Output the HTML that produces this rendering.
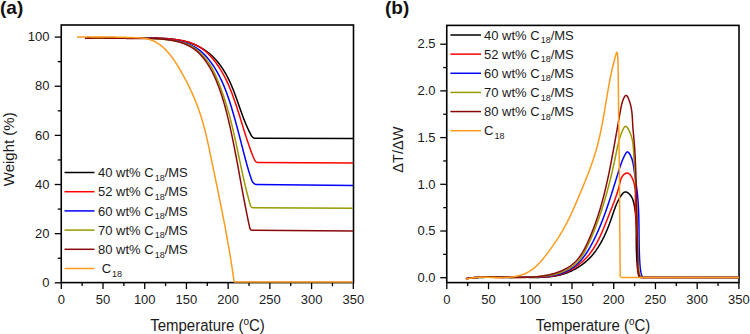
<!DOCTYPE html>
<html><head><meta charset="utf-8"><style>
html,body{margin:0;padding:0;background:#fff;width:750px;height:334px;overflow:hidden}
svg{display:block}
text{font-family:"Liberation Sans",sans-serif;font-size:13px;fill:#1a1a1a}
</style></head><body>
<svg width="750" height="334" viewBox="0 0 750 334">
<rect width="750" height="334" fill="#fff"/>
<text x="0" y="14.2" style="font-size:19px;font-weight:bold;fill:#111">(a)</text>
<text x="385" y="14.2" style="font-size:19px;font-weight:bold;fill:#111">(b)</text>
<g stroke="#000" stroke-width="1.6" fill="none">
<rect x="61.25" y="25.0" width="292.25" height="257.60"/>
<rect x="446.75" y="25.4" width="292.25" height="257.20"/>
</g>
<g stroke="#000" stroke-width="1.3">
<line x1="61.30" y1="282.60" x2="61.30" y2="289.10"/><line x1="82.16" y1="282.60" x2="82.16" y2="286.10"/><line x1="103.02" y1="282.60" x2="103.02" y2="289.10"/><line x1="123.87" y1="282.60" x2="123.87" y2="286.10"/><line x1="144.73" y1="282.60" x2="144.73" y2="289.10"/><line x1="165.59" y1="282.60" x2="165.59" y2="286.10"/><line x1="186.44" y1="282.60" x2="186.44" y2="289.10"/><line x1="207.30" y1="282.60" x2="207.30" y2="286.10"/><line x1="228.16" y1="282.60" x2="228.16" y2="289.10"/><line x1="249.02" y1="282.60" x2="249.02" y2="286.10"/><line x1="269.88" y1="282.60" x2="269.88" y2="289.10"/><line x1="290.73" y1="282.60" x2="290.73" y2="286.10"/><line x1="311.59" y1="282.60" x2="311.59" y2="289.10"/><line x1="332.45" y1="282.60" x2="332.45" y2="286.10"/><line x1="353.31" y1="282.60" x2="353.31" y2="289.10"/><line x1="61.25" y1="282.80" x2="54.75" y2="282.80"/><line x1="61.25" y1="258.23" x2="57.75" y2="258.23"/><line x1="61.25" y1="233.66" x2="54.75" y2="233.66"/><line x1="61.25" y1="209.09" x2="57.75" y2="209.09"/><line x1="61.25" y1="184.52" x2="54.75" y2="184.52"/><line x1="61.25" y1="159.95" x2="57.75" y2="159.95"/><line x1="61.25" y1="135.38" x2="54.75" y2="135.38"/><line x1="61.25" y1="110.81" x2="57.75" y2="110.81"/><line x1="61.25" y1="86.24" x2="54.75" y2="86.24"/><line x1="61.25" y1="61.67" x2="57.75" y2="61.67"/><line x1="61.25" y1="37.10" x2="54.75" y2="37.10"/>
<line x1="446.80" y1="282.60" x2="446.80" y2="289.10"/><line x1="467.67" y1="282.60" x2="467.67" y2="286.10"/><line x1="488.53" y1="282.60" x2="488.53" y2="289.10"/><line x1="509.39" y1="282.60" x2="509.39" y2="286.10"/><line x1="530.26" y1="282.60" x2="530.26" y2="289.10"/><line x1="551.12" y1="282.60" x2="551.12" y2="286.10"/><line x1="571.99" y1="282.60" x2="571.99" y2="289.10"/><line x1="592.86" y1="282.60" x2="592.86" y2="286.10"/><line x1="613.72" y1="282.60" x2="613.72" y2="289.10"/><line x1="634.59" y1="282.60" x2="634.59" y2="286.10"/><line x1="655.45" y1="282.60" x2="655.45" y2="289.10"/><line x1="676.32" y1="282.60" x2="676.32" y2="286.10"/><line x1="697.18" y1="282.60" x2="697.18" y2="289.10"/><line x1="718.05" y1="282.60" x2="718.05" y2="286.10"/><line x1="738.91" y1="282.60" x2="738.91" y2="289.10"/><line x1="446.75" y1="277.70" x2="440.25" y2="277.70"/><line x1="446.75" y1="254.35" x2="443.25" y2="254.35"/><line x1="446.75" y1="231.00" x2="440.25" y2="231.00"/><line x1="446.75" y1="207.65" x2="443.25" y2="207.65"/><line x1="446.75" y1="184.30" x2="440.25" y2="184.30"/><line x1="446.75" y1="160.95" x2="443.25" y2="160.95"/><line x1="446.75" y1="137.60" x2="440.25" y2="137.60"/><line x1="446.75" y1="114.25" x2="443.25" y2="114.25"/><line x1="446.75" y1="90.90" x2="440.25" y2="90.90"/><line x1="446.75" y1="67.55" x2="443.25" y2="67.55"/><line x1="446.75" y1="44.20" x2="440.25" y2="44.20"/>
</g>
<g fill="none" stroke-width="1.5" stroke-linejoin="round" stroke-linecap="butt">
<path d="M84.98,37.99 L85.73,38.01 L86.47,38.02 L87.21,38.04 L87.95,38.05 L88.69,38.06 L89.43,38.07 L90.17,38.08 L90.91,38.09 L91.65,38.10 L92.39,38.11 L93.12,38.12 L93.86,38.12 L94.59,38.13 L95.33,38.13 L96.06,38.14 L96.80,38.14 L97.53,38.15 L98.27,38.15 L99.00,38.15 L99.73,38.15 L100.46,38.15 L101.19,38.15 L101.92,38.15 L102.65,38.15 L103.38,38.15 L104.11,38.15 L104.84,38.14 L105.57,38.14 L106.30,38.14 L107.03,38.13 L107.76,38.13 L108.49,38.13 L109.22,38.12 L109.94,38.12 L110.67,38.11 L111.40,38.10 L112.13,38.10 L112.85,38.09 L113.58,38.09 L114.31,38.08 L115.04,38.07 L115.76,38.07 L116.49,38.06 L117.22,38.05 L117.94,38.04 L118.67,38.04 L119.40,38.03 L120.13,38.02 L120.85,38.01 L121.58,38.01 L122.31,38.00 L123.03,37.99 L123.76,37.99 L124.49,37.98 L125.22,37.97 L125.95,37.96 L126.67,37.96 L127.40,37.95 L128.13,37.94 L128.86,37.94 L129.59,37.93 L130.32,37.93 L131.05,37.92 L131.78,37.92 L132.51,37.91 L133.24,37.91 L133.97,37.90 L134.70,37.90 L135.43,37.89 L136.17,37.89 L136.90,37.89 L137.63,37.89 L138.37,37.88 L139.10,37.88 L139.84,37.88 L140.57,37.88 L141.31,37.88 L142.04,37.88 L142.78,37.88 L143.52,37.89 L144.26,37.89 L145.00,37.89 L145.73,37.90 L146.47,37.90 L147.22,37.91 L147.96,37.91 L148.70,37.92 L149.44,37.93 L150.19,37.94 L150.93,37.95 L151.68,37.96 L152.42,37.97 L153.17,37.98 L153.92,37.99 L154.66,38.01 L155.41,38.03 L156.16,38.04 L156.91,38.06 L157.65,38.09 L158.40,38.11 L159.15,38.14 L159.90,38.17 L160.65,38.20 L161.39,38.23 L162.14,38.27 L162.89,38.31 L163.64,38.35 L164.38,38.39 L165.13,38.44 L165.87,38.49 L166.62,38.55 L167.36,38.60 L168.11,38.67 L168.85,38.73 L169.59,38.80 L170.33,38.87 L171.07,38.95 L171.81,39.03 L172.54,39.12 L173.28,39.21 L174.01,39.30 L174.75,39.40 L175.48,39.51 L176.21,39.62 L176.94,39.73 L177.66,39.85 L178.39,39.97 L179.11,40.10 L179.83,40.24 L180.55,40.38 L181.27,40.53 L181.99,40.68 L182.70,40.84 L183.41,41.00 L184.12,41.17 L184.83,41.35 L185.53,41.53 L186.23,41.72 L186.93,41.92 L187.63,42.13 L188.32,42.34 L189.01,42.55 L189.70,42.78 L190.39,43.01 L191.07,43.25 L191.75,43.50 L192.43,43.75 L193.10,44.02 L193.77,44.28 L194.43,44.56 L195.10,44.85 L195.76,45.14 L196.41,45.43 L197.07,45.74 L197.71,46.05 L198.36,46.37 L199.00,46.70 L199.64,47.04 L200.27,47.38 L200.90,47.73 L201.52,48.09 L202.14,48.45 L202.75,48.82 L203.36,49.20 L203.97,49.58 L204.57,49.98 L205.16,50.38 L205.75,50.78 L206.34,51.20 L206.92,51.62 L207.49,52.05 L208.06,52.48 L208.63,52.93 L209.19,53.38 L209.74,53.83 L210.29,54.30 L210.83,54.77 L211.36,55.25 L211.89,55.73 L212.42,56.22 L212.94,56.72 L213.45,57.23 L213.95,57.74 L214.45,58.26 L214.95,58.78 L215.44,59.31 L215.92,59.85 L216.40,60.39 L216.88,60.94 L217.34,61.49 L217.81,62.05 L218.26,62.62 L218.71,63.19 L219.16,63.76 L219.60,64.34 L220.04,64.93 L220.47,65.51 L220.89,66.11 L221.31,66.71 L221.73,67.31 L222.14,67.92 L222.54,68.53 L222.94,69.15 L223.34,69.77 L223.73,70.39 L224.12,71.02 L224.50,71.65 L224.87,72.28 L225.25,72.92 L225.61,73.56 L225.97,74.20 L226.33,74.85 L226.69,75.50 L227.03,76.15 L227.38,76.81 L227.72,77.47 L228.05,78.12 L228.39,78.79 L228.71,79.45 L229.04,80.12 L229.35,80.78 L229.67,81.45 L229.98,82.13 L230.29,82.80 L230.59,83.47 L230.89,84.15 L231.18,84.83 L231.48,85.51 L231.77,86.19 L232.05,86.87 L232.33,87.55 L232.61,88.24 L232.89,88.92 L233.17,89.61 L233.44,90.30 L233.71,90.99 L233.97,91.68 L234.24,92.37 L234.50,93.06 L234.76,93.75 L235.02,94.45 L235.28,95.14 L235.53,95.83 L235.78,96.53 L236.04,97.22 L236.29,97.92 L236.53,98.61 L236.78,99.31 L237.03,100.01 L237.27,100.70 L237.52,101.40 L237.76,102.10 L238.01,102.79 L238.25,103.49 L238.49,104.19 L238.74,104.88 L238.98,105.58 L239.22,106.28 L239.46,106.97 L239.70,107.67 L239.95,108.36 L240.19,109.06 L240.43,109.75 L240.68,110.44 L240.92,111.14 L241.17,111.83 L241.42,112.52 L241.66,113.21 L241.91,113.90 L242.16,114.59 L242.41,115.27 L242.67,115.96 L242.92,116.64 L243.18,117.33 L243.44,118.01 L243.70,118.69 L243.96,119.37 L244.22,120.05 L244.49,120.72 L244.76,121.40 L245.03,122.07 L245.31,122.74 L245.58,123.41 L245.86,124.08 L246.14,124.75 L246.43,125.41 L246.72,126.07 L247.01,126.73 L247.31,127.39 L247.61,128.05 L247.91,128.70 L248.22,129.35 L248.53,130.00 L248.84,130.65 L249.16,131.29 L249.48,131.93 L249.81,132.57 L250.14,133.21 L250.48,133.84 Q252.4,138.2 255.0,138.2 L353,138.4" stroke="#000000"/>
<path d="M84.98,38.16 L85.79,38.15 L86.61,38.14 L87.42,38.13 L88.23,38.12 L89.05,38.11 L89.86,38.10 L90.67,38.09 L91.48,38.08 L92.30,38.07 L93.11,38.07 L93.92,38.06 L94.73,38.05 L95.54,38.04 L96.35,38.03 L97.16,38.03 L97.97,38.02 L98.78,38.01 L99.59,38.00 L100.40,38.00 L101.21,37.99 L102.02,37.99 L102.83,37.98 L103.64,37.98 L104.45,37.97 L105.26,37.97 L106.07,37.96 L106.87,37.96 L107.68,37.95 L108.49,37.95 L109.30,37.94 L110.11,37.94 L110.91,37.94 L111.72,37.94 L112.53,37.93 L113.34,37.93 L114.14,37.93 L114.95,37.93 L115.76,37.93 L116.57,37.92 L117.37,37.92 L118.18,37.92 L118.99,37.92 L119.80,37.92 L120.60,37.92 L121.41,37.92 L122.22,37.92 L123.02,37.93 L123.83,37.93 L124.64,37.93 L125.45,37.93 L126.25,37.93 L127.06,37.94 L127.87,37.94 L128.68,37.94 L129.48,37.95 L130.29,37.95 L131.10,37.95 L131.91,37.96 L132.71,37.96 L133.52,37.97 L134.33,37.97 L135.14,37.98 L135.95,37.98 L136.76,37.99 L137.56,38.00 L138.37,38.00 L139.18,38.01 L139.99,38.02 L140.80,38.03 L141.61,38.04 L142.42,38.04 L143.23,38.05 L144.04,38.06 L144.85,38.07 L145.66,38.08 L146.47,38.09 L147.28,38.10 L148.09,38.11 L148.91,38.12 L149.72,38.13 L150.53,38.15 L151.34,38.16 L152.15,38.17 L152.97,38.18 L153.78,38.20 L154.59,38.21 L155.41,38.23 L156.22,38.25 L157.03,38.27 L157.85,38.29 L158.66,38.31 L159.47,38.34 L160.29,38.37 L161.10,38.40 L161.91,38.43 L162.72,38.46 L163.54,38.50 L164.35,38.54 L165.16,38.59 L165.98,38.64 L166.79,38.69 L167.60,38.74 L168.41,38.80 L169.22,38.86 L170.03,38.93 L170.85,39.00 L171.66,39.08 L172.47,39.16 L173.28,39.25 L174.08,39.34 L174.89,39.43 L175.70,39.53 L176.51,39.64 L177.32,39.75 L178.12,39.87 L178.92,40.00 L179.73,40.13 L180.53,40.27 L181.33,40.41 L182.12,40.56 L182.92,40.73 L183.71,40.89 L184.50,41.07 L185.28,41.26 L186.07,41.45 L186.84,41.66 L187.62,41.87 L188.39,42.09 L189.16,42.33 L189.92,42.57 L190.68,42.83 L191.43,43.09 L192.18,43.37 L192.92,43.65 L193.66,43.95 L194.39,44.26 L195.11,44.59 L195.83,44.92 L196.54,45.27 L197.25,45.63 L197.95,46.01 L198.64,46.40 L199.32,46.80 L200.00,47.22 L200.67,47.65 L201.33,48.09 L201.98,48.55 L202.63,49.02 L203.27,49.50 L203.90,49.99 L204.53,50.50 L205.14,51.01 L205.75,51.54 L206.36,52.07 L206.95,52.62 L207.54,53.17 L208.12,53.73 L208.70,54.30 L209.26,54.88 L209.82,55.46 L210.38,56.05 L210.92,56.65 L211.46,57.25 L212.00,57.86 L212.52,58.47 L213.04,59.09 L213.56,59.71 L214.06,60.34 L214.57,60.97 L215.06,61.60 L215.55,62.24 L216.03,62.89 L216.51,63.53 L216.98,64.19 L217.44,64.84 L217.90,65.50 L218.35,66.17 L218.80,66.84 L219.24,67.51 L219.67,68.18 L220.10,68.86 L220.53,69.55 L220.95,70.23 L221.36,70.92 L221.77,71.61 L222.17,72.31 L222.57,73.01 L222.97,73.71 L223.36,74.42 L223.74,75.13 L224.12,75.84 L224.49,76.55 L224.86,77.27 L225.23,77.99 L225.59,78.71 L225.95,79.44 L226.30,80.17 L226.65,80.90 L227.00,81.63 L227.34,82.36 L227.68,83.10 L228.01,83.84 L228.34,84.58 L228.66,85.32 L228.99,86.06 L229.30,86.81 L229.62,87.56 L229.93,88.31 L230.24,89.06 L230.55,89.81 L230.85,90.56 L231.15,91.32 L231.44,92.08 L231.74,92.83 L232.03,93.59 L232.31,94.35 L232.60,95.11 L232.88,95.87 L233.16,96.64 L233.44,97.40 L233.71,98.16 L233.99,98.93 L234.26,99.69 L234.53,100.46 L234.79,101.22 L235.06,101.99 L235.32,102.75 L235.58,103.52 L235.84,104.29 L236.10,105.05 L236.35,105.82 L236.60,106.59 L236.86,107.35 L237.11,108.12 L237.36,108.89 L237.61,109.66 L237.85,110.43 L238.10,111.20 L238.34,111.97 L238.59,112.74 L238.83,113.51 L239.07,114.27 L239.31,115.04 L239.55,115.81 L239.79,116.58 L240.03,117.35 L240.27,118.12 L240.51,118.89 L240.75,119.67 L240.98,120.44 L241.22,121.21 L241.46,121.98 L241.70,122.75 L241.93,123.52 L242.17,124.29 L242.41,125.06 L242.64,125.83 L242.88,126.60 L243.12,127.37 L243.36,128.14 L243.60,128.91 L243.84,129.68 L244.08,130.45 L244.32,131.22 L244.56,131.99 L244.80,132.76 L245.04,133.53 L245.28,134.30 L245.53,135.07 L245.78,135.84 L246.02,136.61 L246.27,137.37 L246.52,138.14 L246.77,138.91 L247.02,139.68 L247.28,140.45 L247.53,141.21 L247.79,141.98 L248.05,142.75 L248.31,143.51 L248.57,144.28 L248.83,145.04 L249.10,145.81 L249.37,146.57 L249.64,147.34 L249.91,148.10 L250.19,148.87 L250.46,149.63 L250.74,150.39 L251.03,151.16 L251.31,151.92 L251.60,152.68 L251.89,153.44 L252.18,154.20 L252.48,154.96 L252.77,155.72 L253.08,156.48 L253.38,157.24 L253.69,158.00 Q255.3,162.4 257.5,162.4 L353,163.0" stroke="#ff0000"/>
<path d="M84.96,38.05 L85.84,38.08 L86.72,38.11 L87.60,38.13 L88.48,38.16 L89.35,38.18 L90.23,38.20 L91.11,38.21 L91.98,38.23 L92.86,38.24 L93.73,38.26 L94.61,38.27 L95.48,38.27 L96.36,38.28 L97.23,38.29 L98.10,38.29 L98.98,38.29 L99.85,38.29 L100.72,38.29 L101.59,38.29 L102.47,38.29 L103.34,38.28 L104.21,38.28 L105.08,38.27 L105.95,38.27 L106.82,38.26 L107.69,38.25 L108.57,38.24 L109.44,38.23 L110.31,38.22 L111.18,38.21 L112.05,38.20 L112.92,38.19 L113.78,38.18 L114.65,38.16 L115.52,38.15 L116.39,38.14 L117.26,38.13 L118.13,38.11 L119.00,38.10 L119.87,38.09 L120.74,38.08 L121.61,38.07 L122.47,38.05 L123.34,38.04 L124.21,38.03 L125.08,38.02 L125.95,38.01 L126.82,38.01 L127.69,38.00 L128.55,37.99 L129.42,37.98 L130.29,37.98 L131.16,37.97 L132.03,37.97 L132.90,37.97 L133.77,37.97 L134.64,37.97 L135.50,37.97 L136.37,37.97 L137.24,37.98 L138.11,37.98 L138.98,37.99 L139.85,38.00 L140.72,38.01 L141.59,38.03 L142.46,38.04 L143.33,38.06 L144.20,38.08 L145.07,38.10 L145.94,38.12 L146.81,38.14 L147.69,38.17 L148.56,38.20 L149.43,38.23 L150.30,38.27 L151.17,38.31 L152.04,38.35 L152.92,38.39 L153.79,38.43 L154.66,38.48 L155.54,38.53 L156.41,38.58 L157.29,38.64 L158.16,38.70 L159.03,38.76 L159.91,38.83 L160.79,38.90 L161.66,38.97 L162.54,39.05 L163.41,39.12 L164.29,39.21 L165.17,39.29 L166.05,39.38 L166.93,39.48 L167.80,39.58 L168.68,39.68 L169.56,39.79 L170.43,39.90 L171.31,40.02 L172.18,40.14 L173.05,40.27 L173.93,40.41 L174.79,40.55 L175.66,40.70 L176.52,40.86 L177.38,41.03 L178.24,41.20 L179.10,41.39 L179.95,41.58 L180.80,41.78 L181.64,41.99 L182.48,42.21 L183.31,42.44 L184.14,42.68 L184.97,42.93 L185.79,43.19 L186.61,43.46 L187.42,43.74 L188.22,44.04 L189.02,44.35 L189.81,44.67 L190.59,45.00 L191.37,45.35 L192.14,45.71 L192.91,46.08 L193.66,46.47 L194.41,46.87 L195.15,47.29 L195.88,47.72 L196.61,48.17 L197.32,48.63 L198.03,49.11 L198.72,49.60 L199.41,50.11 L200.09,50.64 L200.76,51.18 L201.42,51.74 L202.07,52.32 L202.71,52.91 L203.34,53.51 L203.96,54.12 L204.57,54.75 L205.18,55.38 L205.78,56.03 L206.36,56.68 L206.94,57.34 L207.51,58.02 L208.08,58.69 L208.63,59.38 L209.18,60.07 L209.72,60.76 L210.25,61.46 L210.77,62.16 L211.29,62.86 L211.80,63.57 L212.30,64.29 L212.80,65.01 L213.28,65.73 L213.76,66.45 L214.24,67.18 L214.70,67.92 L215.16,68.65 L215.62,69.39 L216.07,70.14 L216.51,70.88 L216.94,71.63 L217.37,72.39 L217.79,73.15 L218.21,73.91 L218.62,74.67 L219.02,75.44 L219.42,76.20 L219.82,76.98 L220.20,77.75 L220.59,78.53 L220.96,79.31 L221.33,80.09 L221.70,80.88 L222.06,81.67 L222.42,82.46 L222.77,83.25 L223.12,84.05 L223.46,84.85 L223.80,85.65 L224.13,86.45 L224.46,87.25 L224.79,88.06 L225.11,88.87 L225.43,89.68 L225.74,90.49 L226.05,91.30 L226.35,92.11 L226.66,92.93 L226.95,93.75 L227.25,94.57 L227.54,95.39 L227.83,96.21 L228.11,97.04 L228.40,97.86 L228.68,98.69 L228.95,99.51 L229.23,100.34 L229.50,101.17 L229.77,102.00 L230.03,102.83 L230.30,103.66 L230.56,104.49 L230.82,105.32 L231.07,106.16 L231.33,106.99 L231.58,107.82 L231.83,108.66 L232.08,109.49 L232.33,110.33 L232.58,111.16 L232.82,112.00 L233.07,112.83 L233.31,113.67 L233.55,114.50 L233.79,115.34 L234.03,116.17 L234.27,117.01 L234.50,117.84 L234.74,118.68 L234.97,119.52 L235.21,120.35 L235.44,121.19 L235.67,122.03 L235.90,122.87 L236.13,123.70 L236.36,124.54 L236.58,125.38 L236.81,126.22 L237.04,127.06 L237.26,127.90 L237.49,128.74 L237.71,129.58 L237.93,130.42 L238.16,131.26 L238.38,132.10 L238.60,132.94 L238.82,133.79 L239.04,134.63 L239.26,135.47 L239.48,136.31 L239.70,137.16 L239.92,138.00 L240.14,138.85 L240.36,139.69 L240.58,140.54 L240.80,141.38 L241.02,142.23 L241.24,143.08 L241.45,143.92 L241.67,144.77 L241.89,145.62 L242.11,146.47 L242.33,147.32 L242.55,148.17 L242.77,149.02 L242.99,149.87 L243.21,150.72 L243.43,151.57 L243.65,152.43 L243.87,153.28 L244.09,154.13 L244.32,154.99 L244.54,155.84 L244.76,156.70 L244.99,157.55 L245.21,158.41 L245.44,159.26 L245.67,160.12 L245.89,160.97 L246.12,161.82 L246.35,162.67 L246.58,163.51 L246.82,164.36 L247.05,165.20 L247.28,166.03 L247.52,166.87 L247.76,167.70 L248.00,168.52 L248.24,169.34 L248.48,170.16 L248.73,170.97 L248.97,171.78 L249.22,172.58 L249.47,173.37 L249.72,174.16 L249.98,174.94 L250.23,175.71 L250.49,176.47 L250.75,177.23 L251.01,177.98 L251.28,178.72 L251.55,179.45 L251.71,179.94 L251.19,178.91 Q253.3,184.5 256.5,184.5 L353,185.5" stroke="#0000ff"/>
<path d="M84.98,38.10 L85.93,38.12 L86.87,38.15 L87.82,38.17 L88.77,38.19 L89.71,38.20 L90.66,38.22 L91.61,38.23 L92.55,38.25 L93.50,38.25 L94.45,38.26 L95.39,38.27 L96.34,38.28 L97.28,38.28 L98.23,38.28 L99.17,38.28 L100.11,38.28 L101.06,38.28 L102.00,38.28 L102.95,38.28 L103.89,38.27 L104.83,38.27 L105.78,38.26 L106.72,38.25 L107.66,38.25 L108.60,38.24 L109.55,38.23 L110.49,38.22 L111.43,38.21 L112.37,38.20 L113.32,38.20 L114.26,38.19 L115.20,38.18 L116.14,38.17 L117.08,38.16 L118.02,38.15 L118.97,38.14 L119.91,38.13 L120.85,38.12 L121.79,38.12 L122.73,38.11 L123.67,38.10 L124.61,38.10 L125.55,38.09 L126.50,38.09 L127.44,38.08 L128.38,38.08 L129.32,38.08 L130.26,38.08 L131.20,38.08 L132.14,38.08 L133.08,38.09 L134.03,38.09 L134.97,38.10 L135.91,38.11 L136.85,38.12 L137.79,38.13 L138.73,38.14 L139.67,38.16 L140.62,38.17 L141.56,38.19 L142.50,38.21 L143.44,38.24 L144.38,38.26 L145.33,38.29 L146.27,38.32 L147.21,38.35 L148.15,38.39 L149.10,38.43 L150.04,38.47 L150.98,38.51 L151.93,38.56 L152.87,38.60 L153.81,38.66 L154.76,38.71 L155.70,38.77 L156.65,38.83 L157.59,38.89 L158.53,38.96 L159.48,39.03 L160.42,39.11 L161.37,39.18 L162.31,39.27 L163.26,39.35 L164.21,39.44 L165.15,39.53 L166.10,39.63 L167.05,39.73 L167.99,39.84 L168.94,39.95 L169.88,40.07 L170.82,40.19 L171.76,40.33 L172.70,40.47 L173.64,40.61 L174.57,40.77 L175.50,40.94 L176.43,41.12 L177.36,41.30 L178.28,41.50 L179.19,41.72 L180.10,41.94 L181.01,42.18 L181.91,42.42 L182.80,42.69 L183.69,42.97 L184.58,43.26 L185.45,43.57 L186.32,43.90 L187.18,44.24 L188.04,44.60 L188.89,44.97 L189.73,45.37 L190.56,45.79 L191.38,46.22 L192.19,46.68 L192.99,47.15 L193.79,47.65 L194.57,48.17 L195.34,48.71 L196.10,49.27 L196.84,49.85 L197.57,50.45 L198.28,51.06 L198.98,51.70 L199.66,52.34 L200.32,53.00 L200.98,53.67 L201.63,54.34 L202.27,55.02 L202.91,55.70 L203.54,56.39 L204.17,57.08 L204.78,57.77 L205.39,58.48 L205.98,59.19 L206.56,59.91 L207.13,60.64 L207.68,61.38 L208.23,62.13 L208.76,62.89 L209.27,63.66 L209.78,64.44 L210.27,65.22 L210.75,66.02 L211.23,66.82 L211.69,67.62 L212.14,68.44 L212.58,69.26 L213.02,70.09 L213.44,70.92 L213.86,71.76 L214.27,72.60 L214.67,73.44 L215.07,74.30 L215.46,75.15 L215.84,76.01 L216.22,76.87 L216.59,77.74 L216.96,78.60 L217.33,79.47 L217.69,80.34 L218.04,81.21 L218.40,82.09 L218.75,82.96 L219.09,83.83 L219.44,84.71 L219.78,85.59 L220.11,86.47 L220.45,87.35 L220.78,88.23 L221.10,89.11 L221.43,90.00 L221.75,90.88 L222.06,91.77 L222.38,92.65 L222.69,93.54 L223.00,94.43 L223.30,95.32 L223.60,96.21 L223.90,97.11 L224.20,98.00 L224.49,98.89 L224.78,99.79 L225.07,100.68 L225.36,101.58 L225.64,102.48 L225.92,103.38 L226.20,104.28 L226.47,105.18 L226.74,106.08 L227.01,106.98 L227.28,107.88 L227.54,108.79 L227.81,109.69 L228.07,110.60 L228.32,111.50 L228.58,112.41 L228.83,113.32 L229.08,114.23 L229.33,115.13 L229.57,116.04 L229.82,116.95 L230.06,117.86 L230.30,118.78 L230.53,119.69 L230.77,120.60 L231.00,121.51 L231.23,122.43 L231.46,123.34 L231.69,124.25 L231.91,125.17 L232.13,126.08 L232.36,127.00 L232.58,127.92 L232.79,128.83 L233.01,129.75 L233.23,130.67 L233.44,131.59 L233.65,132.50 L233.86,133.42 L234.07,134.34 L234.28,135.26 L234.49,136.18 L234.69,137.10 L234.90,138.02 L235.10,138.94 L235.31,139.86 L235.51,140.78 L235.71,141.71 L235.91,142.63 L236.11,143.55 L236.31,144.47 L236.50,145.39 L236.70,146.32 L236.90,147.24 L237.09,148.16 L237.29,149.08 L237.48,150.01 L237.68,150.93 L237.87,151.85 L238.07,152.78 L238.26,153.70 L238.45,154.62 L238.65,155.55 L238.84,156.47 L239.04,157.39 L239.23,158.32 L239.42,159.24 L239.62,160.16 L239.81,161.09 L240.00,162.01 L240.20,162.93 L240.39,163.86 L240.59,164.78 L240.78,165.70 L240.98,166.63 L241.18,167.55 L241.37,168.47 L241.57,169.39 L241.77,170.32 L241.97,171.24 L242.17,172.16 L242.37,173.08 L242.57,174.00 L242.77,174.92 L242.98,175.85 L243.18,176.77 L243.39,177.69 L243.60,178.61 L243.80,179.53 L244.01,180.45 L244.22,181.36 L244.44,182.28 L244.65,183.20 L244.87,184.12 L245.08,185.04 L245.30,185.95 L245.52,186.87 L245.74,187.79 L245.96,188.70 L246.19,189.62 L246.42,190.53 L246.65,191.45 L246.88,192.36 L247.11,193.27 L247.34,194.19 L247.58,195.10 L247.82,196.01 L248.06,196.92 L248.30,197.83 L248.55,198.74 L248.80,199.65 L249.05,200.56 L249.30,201.47 L249.56,202.38 L249.81,203.28 L250.07,204.19 L250.34,205.09 L250.60,206.00 Q251.5,207.8 253.0,207.8 L353,208.3" stroke="#999900"/>
<path d="M84.97,38.26 L86.00,38.23 L87.02,38.21 L88.04,38.19 L89.06,38.17 L90.08,38.16 L91.10,38.14 L92.12,38.13 L93.14,38.12 L94.15,38.11 L95.17,38.11 L96.18,38.10 L97.19,38.10 L98.21,38.10 L99.22,38.10 L100.23,38.10 L101.24,38.10 L102.25,38.11 L103.26,38.11 L104.27,38.12 L105.28,38.13 L106.29,38.14 L107.30,38.15 L108.31,38.16 L109.32,38.17 L110.32,38.18 L111.33,38.19 L112.34,38.20 L113.35,38.22 L114.36,38.23 L115.36,38.24 L116.37,38.26 L117.38,38.27 L118.39,38.28 L119.39,38.30 L120.40,38.31 L121.41,38.32 L122.42,38.33 L123.43,38.35 L124.44,38.36 L125.45,38.37 L126.46,38.38 L127.47,38.39 L128.48,38.40 L129.49,38.40 L130.51,38.41 L131.52,38.41 L132.53,38.42 L133.55,38.42 L134.56,38.42 L135.58,38.42 L136.60,38.42 L137.62,38.42 L138.63,38.42 L139.65,38.42 L140.67,38.41 L141.69,38.41 L142.71,38.41 L143.73,38.41 L144.75,38.41 L145.78,38.42 L146.80,38.42 L147.82,38.43 L148.84,38.45 L149.86,38.46 L150.88,38.48 L151.90,38.51 L152.92,38.53 L153.93,38.57 L154.95,38.61 L155.97,38.65 L156.98,38.70 L158.00,38.76 L159.01,38.82 L160.03,38.89 L161.04,38.97 L162.05,39.06 L163.06,39.15 L164.07,39.25 L165.07,39.36 L166.08,39.48 L167.08,39.62 L168.08,39.76 L169.08,39.91 L170.08,40.07 L171.07,40.24 L172.07,40.42 L173.06,40.62 L174.05,40.83 L175.03,41.05 L176.02,41.28 L177.00,41.53 L177.98,41.79 L178.95,42.06 L179.92,42.35 L180.88,42.66 L181.84,42.97 L182.79,43.31 L183.74,43.66 L184.67,44.02 L185.60,44.41 L186.52,44.80 L187.43,45.22 L188.33,45.65 L189.22,46.11 L190.10,46.58 L190.97,47.06 L191.82,47.57 L192.66,48.10 L193.49,48.65 L194.31,49.21 L195.11,49.80 L195.89,50.41 L196.66,51.04 L197.41,51.69 L198.15,52.35 L198.88,53.04 L199.59,53.75 L200.28,54.47 L200.96,55.20 L201.63,55.95 L202.29,56.71 L202.93,57.49 L203.56,58.27 L204.18,59.07 L204.79,59.87 L205.39,60.69 L205.97,61.51 L206.55,62.34 L207.11,63.18 L207.67,64.03 L208.21,64.88 L208.74,65.74 L209.26,66.60 L209.77,67.46 L210.28,68.34 L210.77,69.21 L211.25,70.09 L211.73,70.98 L212.19,71.87 L212.65,72.76 L213.10,73.66 L213.54,74.57 L213.97,75.47 L214.40,76.38 L214.81,77.30 L215.22,78.21 L215.62,79.13 L216.02,80.06 L216.41,80.99 L216.79,81.92 L217.17,82.85 L217.54,83.78 L217.90,84.72 L218.26,85.66 L218.62,86.61 L218.96,87.55 L219.31,88.50 L219.65,89.45 L219.98,90.40 L220.31,91.35 L220.64,92.30 L220.96,93.26 L221.28,94.22 L221.59,95.18 L221.90,96.14 L222.21,97.10 L222.51,98.06 L222.81,99.03 L223.10,99.99 L223.40,100.96 L223.68,101.93 L223.97,102.90 L224.25,103.87 L224.53,104.84 L224.80,105.82 L225.07,106.79 L225.34,107.77 L225.61,108.74 L225.87,109.72 L226.13,110.70 L226.38,111.68 L226.64,112.66 L226.89,113.64 L227.14,114.63 L227.38,115.61 L227.63,116.59 L227.87,117.58 L228.11,118.56 L228.34,119.55 L228.58,120.53 L228.81,121.52 L229.04,122.51 L229.27,123.50 L229.50,124.49 L229.72,125.48 L229.94,126.46 L230.16,127.45 L230.38,128.44 L230.60,129.43 L230.82,130.43 L231.03,131.42 L231.25,132.41 L231.46,133.40 L231.67,134.39 L231.88,135.38 L232.09,136.37 L232.29,137.36 L232.50,138.36 L232.70,139.35 L232.91,140.34 L233.11,141.33 L233.31,142.33 L233.51,143.32 L233.71,144.31 L233.91,145.30 L234.10,146.30 L234.30,147.29 L234.49,148.28 L234.69,149.28 L234.88,150.27 L235.07,151.27 L235.26,152.26 L235.46,153.25 L235.65,154.25 L235.84,155.24 L236.02,156.24 L236.21,157.23 L236.40,158.23 L236.59,159.22 L236.77,160.22 L236.96,161.21 L237.14,162.21 L237.33,163.20 L237.51,164.20 L237.70,165.19 L237.88,166.19 L238.06,167.18 L238.25,168.18 L238.43,169.17 L238.61,170.17 L238.79,171.16 L238.97,172.16 L239.16,173.15 L239.34,174.15 L239.52,175.15 L239.70,176.14 L239.88,177.14 L240.06,178.13 L240.24,179.13 L240.43,180.12 L240.61,181.12 L240.79,182.11 L240.97,183.11 L241.15,184.11 L241.33,185.10 L241.52,186.10 L241.70,187.09 L241.88,188.09 L242.06,189.08 L242.25,190.08 L242.43,191.07 L242.62,192.07 L242.80,193.06 L242.99,194.06 L243.17,195.05 L243.36,196.05 L243.54,197.04 L243.73,198.04 L243.92,199.03 L244.11,200.03 L244.30,201.02 L244.49,202.02 L244.68,203.01 L244.87,204.00 L245.06,205.00 L245.25,205.99 L245.45,206.99 L245.64,207.98 L245.84,208.97 L246.03,209.97 L246.23,210.96 L246.43,211.95 L246.63,212.95 L246.83,213.94 L247.03,214.93 L247.24,215.92 L247.44,216.92 L247.64,217.91 L247.85,218.90 L248.06,219.89 L248.27,220.88 L248.48,221.88 L248.69,222.87 L248.90,223.86 L249.12,224.85 L249.33,225.84 L249.55,226.83 L249.77,227.82 L249.99,228.81 Q250.5,230.3 252.0,230.35 L353,230.9" stroke="#8a0a0a"/>
<path d="M77.00,36.91 L78.12,36.91 L79.25,36.90 L80.37,36.89 L81.50,36.89 L82.62,36.89 L83.75,36.88 L84.87,36.88 L86.00,36.88 L87.12,36.88 L88.25,36.87 L89.37,36.88 L90.50,36.88 L91.62,36.88 L92.75,36.88 L93.87,36.88 L95.00,36.89 L96.12,36.89 L97.25,36.90 L98.37,36.90 L99.50,36.91 L100.62,36.92 L101.74,36.93 L102.87,36.94 L103.99,36.95 L105.12,36.96 L106.24,36.98 L107.36,36.99 L108.48,37.00 L109.61,37.02 L110.73,37.04 L111.85,37.05 L112.97,37.07 L114.09,37.09 L115.22,37.11 L116.34,37.14 L117.46,37.16 L118.58,37.18 L119.70,37.21 L120.82,37.23 L121.94,37.26 L123.07,37.29 L124.19,37.32 L125.31,37.35 L126.44,37.38 L127.56,37.42 L128.69,37.45 L129.82,37.49 L130.95,37.53 L132.08,37.57 L133.22,37.61 L134.35,37.65 L135.49,37.70 L136.63,37.74 L137.77,37.79 L138.91,37.86 L140.04,37.93 L141.18,38.02 L142.31,38.12 L143.43,38.24 L144.55,38.39 L145.65,38.57 L146.75,38.77 L147.84,39.01 L148.91,39.28 L149.97,39.59 L151.02,39.94 L152.05,40.33 L153.06,40.75 L154.07,41.21 L155.05,41.71 L156.02,42.24 L156.98,42.81 L157.92,43.40 L158.85,44.03 L159.76,44.68 L160.65,45.35 L161.53,46.05 L162.40,46.78 L163.24,47.52 L164.08,48.29 L164.89,49.07 L165.70,49.87 L166.48,50.69 L167.25,51.52 L168.01,52.36 L168.75,53.21 L169.47,54.08 L170.18,54.95 L170.87,55.84 L171.56,56.73 L172.22,57.63 L172.88,58.54 L173.53,59.45 L174.16,60.37 L174.79,61.30 L175.40,62.24 L176.01,63.18 L176.61,64.13 L177.21,65.08 L177.79,66.03 L178.38,66.99 L178.95,67.96 L179.52,68.92 L180.09,69.89 L180.66,70.86 L181.22,71.84 L181.77,72.81 L182.33,73.79 L182.87,74.77 L183.42,75.76 L183.96,76.74 L184.50,77.73 L185.03,78.73 L185.55,79.72 L186.08,80.72 L186.60,81.72 L187.11,82.72 L187.62,83.72 L188.12,84.73 L188.62,85.74 L189.12,86.75 L189.61,87.76 L190.10,88.78 L190.58,89.79 L191.05,90.81 L191.52,91.84 L191.99,92.86 L192.45,93.89 L192.91,94.92 L193.36,95.95 L193.80,96.98 L194.24,98.02 L194.68,99.05 L195.11,100.09 L195.53,101.13 L195.95,102.18 L196.36,103.22 L196.77,104.27 L197.17,105.32 L197.57,106.37 L197.96,107.43 L198.34,108.48 L198.72,109.54 L199.09,110.60 L199.46,111.66 L199.82,112.72 L200.17,113.79 L200.52,114.85 L200.86,115.92 L201.20,116.99 L201.53,118.07 L201.86,119.14 L202.18,120.21 L202.49,121.29 L202.81,122.37 L203.11,123.45 L203.41,124.53 L203.71,125.61 L204.00,126.70 L204.29,127.78 L204.57,128.87 L204.85,129.96 L205.13,131.04 L205.40,132.13 L205.67,133.22 L205.93,134.32 L206.19,135.41 L206.45,136.50 L206.71,137.60 L206.96,138.69 L207.21,139.79 L207.46,140.88 L207.70,141.98 L207.95,143.08 L208.19,144.18 L208.43,145.28 L208.66,146.38 L208.90,147.48 L209.13,148.58 L209.37,149.68 L209.60,150.78 L209.83,151.88 L210.06,152.99 L210.29,154.09 L210.52,155.19 L210.74,156.29 L210.97,157.39 L211.20,158.50 L211.43,159.60 L211.65,160.70 L211.88,161.80 L212.11,162.91 L212.34,164.01 L212.57,165.11 L212.80,166.21 L213.02,167.32 L213.25,168.42 L213.48,169.52 L213.71,170.62 L213.94,171.72 L214.17,172.82 L214.39,173.93 L214.62,175.03 L214.85,176.13 L215.08,177.23 L215.31,178.33 L215.54,179.43 L215.76,180.54 L215.99,181.64 L216.22,182.74 L216.45,183.84 L216.68,184.94 L216.90,186.04 L217.13,187.15 L217.36,188.25 L217.58,189.35 L217.81,190.45 L218.04,191.55 L218.26,192.65 L218.49,193.75 L218.71,194.86 L218.94,195.96 L219.16,197.06 L219.39,198.16 L219.61,199.26 L219.83,200.37 L220.06,201.47 L220.28,202.57 L220.50,203.67 L220.72,204.77 L220.94,205.88 L221.16,206.98 L221.38,208.08 L221.60,209.18 L221.82,210.28 L222.04,211.39 L222.26,212.49 L222.48,213.59 L222.69,214.70 L222.91,215.80 L223.12,216.90 L223.34,218.00 L223.55,219.11 L223.77,220.21 L223.98,221.32 L224.19,222.42 L224.40,223.52 L224.61,224.63 L224.82,225.73 L225.03,226.83 L225.24,227.94 L225.45,229.04 L225.66,230.15 L225.86,231.25 L226.07,232.36 L226.27,233.46 L226.47,234.57 L226.68,235.67 L226.88,236.78 L227.08,237.88 L227.28,238.99 L227.47,240.10 L227.67,241.20 L227.87,242.31 L228.06,243.42 L228.26,244.52 L228.45,245.63 L228.64,246.74 L228.84,247.84 L229.03,248.95 L229.21,250.06 L229.40,251.17 L229.59,252.28 L229.77,253.38 L229.96,254.49 L230.14,255.60 L230.32,256.71 L230.50,257.82 L230.68,258.93 L230.86,260.04 L231.04,261.15 L231.22,262.26 L231.39,263.37 L231.56,264.48 L231.73,265.59 L231.90,266.71 L232.07,267.82 L232.24,268.93 L232.41,270.04 L232.57,271.15 L232.74,272.27 L232.90,273.38 L233.06,274.49 L233.22,275.61 L233.37,276.72 L233.53,277.84 L233.69,278.95 L233.84,280.07 L233.99,281.18 L234.6,282.1 L353,282.1" stroke="#fd9b1c"/>

<path d="M465.92,278.52 L466.51,278.46 L467.10,278.41 L467.69,278.36 L468.28,278.32 L468.87,278.27 L469.46,278.22 L470.05,278.18 L470.64,278.13 L471.24,278.09 L471.83,278.05 L472.42,278.01 L473.01,277.97 L473.60,277.93 L474.19,277.89 L474.78,277.85 L475.36,277.82 L475.95,277.78 L476.54,277.75 L477.13,277.72 L477.72,277.68 L478.31,277.65 L478.90,277.62 L479.49,277.59 L480.08,277.56 L480.67,277.54 L481.26,277.51 L481.85,277.48 L482.44,277.46 L483.02,277.43 L483.61,277.41 L484.20,277.39 L484.79,277.37 L485.38,277.35 L485.97,277.33 L486.56,277.31 L487.15,277.29 L487.74,277.27 L488.32,277.25 L488.91,277.24 L489.50,277.22 L490.09,277.21 L490.68,277.19 L491.27,277.18 L491.86,277.17 L492.45,277.16 L493.03,277.14 L493.62,277.13 L494.21,277.12 L494.80,277.11 L495.39,277.11 L495.98,277.10 L496.57,277.09 L497.16,277.08 L497.75,277.08 L498.34,277.07 L498.93,277.07 L499.51,277.06 L500.10,277.06 L500.69,277.06 L501.28,277.06 L501.87,277.05 L502.46,277.05 L503.05,277.05 L503.64,277.05 L504.23,277.05 L504.82,277.05 L505.41,277.05 L506.00,277.05 L506.59,277.06 L507.18,277.06 L507.78,277.06 L508.37,277.06 L508.96,277.07 L509.55,277.07 L510.14,277.08 L510.73,277.08 L511.32,277.09 L511.91,277.09 L512.51,277.10 L513.10,277.11 L513.69,277.11 L514.28,277.12 L514.88,277.13 L515.47,277.14 L516.06,277.14 L516.65,277.15 L517.25,277.16 L517.84,277.17 L518.43,277.18 L519.03,277.19 L519.62,277.20 L520.22,277.21 L520.81,277.22 L521.41,277.23 L522.00,277.24 L522.60,277.25 L523.19,277.26 L523.79,277.28 L524.38,277.29 L524.98,277.30 L525.57,277.31 L526.17,277.32 L526.77,277.33 L527.36,277.35 L527.96,277.36 L528.56,277.37 L529.15,277.38 L529.75,277.39 L530.35,277.40 L530.94,277.40 L531.54,277.41 L532.14,277.42 L532.73,277.42 L533.33,277.43 L533.93,277.43 L534.52,277.43 L535.12,277.43 L535.72,277.43 L536.31,277.43 L536.91,277.42 L537.50,277.42 L538.10,277.41 L538.69,277.40 L539.29,277.39 L539.88,277.38 L540.48,277.36 L541.07,277.34 L541.66,277.32 L542.25,277.30 L542.85,277.27 L543.44,277.24 L544.03,277.21 L544.62,277.18 L545.21,277.14 L545.80,277.10 L546.39,277.06 L546.98,277.02 L547.57,276.97 L548.15,276.92 L548.74,276.86 L549.33,276.80 L549.91,276.74 L550.50,276.67 L551.08,276.60 L551.66,276.53 L552.24,276.45 L552.83,276.37 L553.41,276.29 L553.99,276.20 L554.57,276.10 L555.14,276.00 L555.72,275.90 L556.30,275.79 L556.87,275.68 L557.45,275.56 L558.02,275.44 L558.59,275.32 L559.16,275.19 L559.73,275.05 L560.30,274.91 L560.87,274.76 L561.43,274.61 L562.00,274.45 L562.56,274.29 L563.13,274.12 L563.69,273.95 L564.25,273.77 L564.81,273.58 L565.37,273.39 L565.92,273.20 L566.48,272.99 L567.03,272.79 L567.58,272.58 L568.13,272.36 L568.68,272.14 L569.22,271.91 L569.77,271.68 L570.31,271.44 L570.85,271.20 L571.39,270.95 L571.92,270.70 L572.45,270.44 L572.99,270.18 L573.51,269.91 L574.04,269.64 L574.56,269.36 L575.08,269.08 L575.60,268.79 L576.12,268.50 L576.63,268.20 L577.14,267.90 L577.65,267.59 L578.16,267.28 L578.66,266.96 L579.16,266.64 L579.65,266.32 L580.14,265.99 L580.63,265.65 L581.12,265.32 L581.60,264.97 L582.08,264.63 L582.56,264.27 L583.03,263.92 L583.50,263.56 L583.97,263.19 L584.43,262.82 L584.89,262.45 L585.34,262.07 L585.79,261.69 L586.24,261.30 L586.68,260.91 L587.12,260.52 L587.55,260.12 L587.98,259.71 L588.41,259.31 L588.83,258.90 L589.25,258.48 L589.66,258.06 L590.07,257.64 L590.48,257.21 L590.88,256.78 L591.27,256.35 L591.67,255.91 L592.05,255.47 L592.44,255.02 L592.82,254.58 L593.19,254.12 L593.56,253.67 L593.93,253.21 L594.29,252.75 L594.65,252.28 L595.01,251.81 L595.36,251.34 L595.71,250.87 L596.05,250.39 L596.39,249.91 L596.73,249.42 L597.06,248.94 L597.39,248.45 L597.72,247.96 L598.04,247.46 L598.36,246.96 L598.67,246.46 L598.99,245.96 L599.30,245.46 L599.60,244.95 L599.90,244.44 L600.20,243.93 L600.50,243.41 L600.79,242.90 L601.08,242.38 L601.37,241.86 L601.65,241.34 L601.93,240.81 L602.21,240.29 L602.49,239.76 L602.76,239.23 L603.03,238.70 L603.30,238.16 L603.56,237.63 L603.82,237.09 L604.08,236.55 L604.34,236.01 L604.59,235.47 L604.84,234.93 L605.09,234.39 L605.34,233.84 L605.58,233.30 L605.82,232.75 L606.06,232.20 L606.30,231.65 L606.53,231.10 L606.77,230.55 L607.00,230.00 L607.23,229.45 L607.45,228.89 L607.68,228.34 L607.90,227.78 L608.12,227.23 L608.34,226.67 L608.56,226.12 L608.77,225.56 L608.98,225.00 L609.20,224.45 L609.41,223.89 L609.61,223.33 L609.82,222.77 L610.03,222.22 L610.23,221.66 L610.43,221.10 L610.63,220.54 L610.83,219.99 L611.03,219.43 L611.23,218.87 L611.42,218.32 L611.62,217.76 L611.81,217.20 L612.00,216.65 L612.19,216.09 L612.38,215.54 L612.57,214.99 L612.76,214.43 L612.95,213.88 L613.13,213.33 L613.32,212.78 L613.51,212.23 L613.69,211.68 L613.88,211.13 L614.07,210.59 L614.26,210.04 L614.46,209.49 L614.65,208.95 L614.85,208.40 L615.05,207.86 L615.26,207.31 L615.46,206.77 L615.67,206.23 L615.89,205.69 L616.11,205.15 L616.33,204.60 L616.56,204.06 L616.80,203.52 L617.04,202.99 L617.29,202.45 L617.54,201.91 L617.80,201.37 L618.07,200.83 L618.34,200.30 L618.62,199.76 L618.91,199.23 L619.21,198.69 L619.52,198.16 L619.83,197.62 L620.16,197.09 L620.49,196.56 L620.84,196.02 L621.19,195.49 L621.56,194.96 L621.93,194.44 L622.32,193.93 L622.73,193.46 L623.14,193.02 L623.57,192.64 L624.02,192.33 L624.48,192.09 L624.96,191.93 L625.46,191.88 L625.97,191.93 L626.50,192.08 L627.04,192.31 L627.57,192.61 L628.10,192.97 L628.61,193.37 L629.10,193.81 L629.56,194.27 L630.00,194.74 L630.40,195.22 L630.77,195.71 L631.12,196.21 L631.44,196.72 L631.74,197.23 L632.01,197.76 L632.27,198.29 L632.50,198.83 L632.72,199.38 L632.92,199.93 L633.10,200.49 L633.28,201.05 L633.44,201.62 L633.58,202.19 L633.72,202.76 L633.86,203.34 L633.98,203.91 L634.10,204.49 L634.22,205.07 L634.33,205.64 L634.44,206.22 L634.54,206.80 L634.64,207.38 L634.74,207.96 L634.83,208.54 L634.92,209.12 L635.01,209.70 L635.09,210.29 L635.16,210.87 L635.24,211.45 L635.31,212.04 L635.38,212.62 L635.44,213.20 L635.50,213.79 L635.56,214.38 L635.61,214.96 L635.67,215.55 L635.72,216.14 L635.76,216.72 L635.81,217.31 L635.85,217.90 L635.89,218.49 L635.92,219.08 L635.96,219.67 L635.99,220.25 L636.02,220.84 L636.04,221.43 L636.07,222.03 L636.09,222.62 L636.11,223.21 L636.13,223.80 L636.15,224.39 L636.17,224.98 L636.18,225.57 L636.20,226.17 L636.21,226.76 L636.22,227.35 L636.23,227.95 L636.24,228.54 L636.24,229.13 L636.25,229.73 L636.26,230.32 L636.26,230.91 L636.26,231.51 L636.27,232.10 L636.27,232.70 L636.27,233.29 L636.27,233.88 L636.27,234.48 L636.27,235.07 L636.27,235.67 L636.28,236.26 L636.28,236.86 L636.28,237.45 L636.28,238.05 L636.28,238.64 L636.28,239.24 L636.28,239.83 L636.28,240.43 L636.29,241.02 L636.29,241.61 L636.29,242.21 L636.30,242.80 L636.30,243.40 L636.31,243.99 L636.31,244.59 L636.32,245.18 L636.33,245.77 L636.34,246.37 L636.35,246.96 L636.36,247.56 L636.37,248.15 L636.38,248.74 L636.39,249.34 L636.41,249.93 L636.42,250.52 L636.44,251.11 L636.46,251.71 L636.48,252.30 L636.50,252.89 L636.52,253.48 L636.54,254.07 L636.57,254.67 L636.59,255.26 L636.62,255.85 L636.65,256.44 L636.68,257.03 L636.71,257.62 L636.75,258.21 L636.78,258.80 L636.82,259.39 L636.86,259.98 L636.90,260.57 L636.94,261.16 L636.98,261.74 L637.03,262.33 L637.08,262.92 L637.13,263.51 L637.18,264.09 L637.23,264.68 L637.29,265.27 L637.34,265.85 L637.40,266.44 L637.47,267.02 L637.53,267.61 L637.60,268.19 L637.67,268.77 L637.74,269.36 L637.81,269.94 L637.89,270.52 L637.97,271.11 L638.05,271.69 L638.13,272.27 L638.22,272.85 L638.30,273.43 L638.40,274.01 L638.49,274.59 L638.59,275.17 L638.69,275.74 L638.84,276.30 L639.12,276.78 L639.61,277.14 L640.41,277.35 L739,277.5" stroke="#000000"/>
<path d="M466.01,278.96 L466.64,278.78 L467.28,278.62 L467.92,278.47 L468.56,278.32 L469.20,278.19 L469.85,278.07 L470.49,277.95 L471.14,277.85 L471.79,277.75 L472.44,277.67 L473.10,277.59 L473.75,277.52 L474.41,277.45 L475.06,277.40 L475.72,277.35 L476.38,277.30 L477.04,277.26 L477.70,277.23 L478.36,277.21 L479.03,277.19 L479.69,277.17 L480.36,277.16 L481.02,277.15 L481.69,277.15 L482.35,277.15 L483.02,277.15 L483.69,277.16 L484.35,277.17 L485.02,277.18 L485.69,277.19 L486.36,277.20 L487.02,277.22 L487.69,277.23 L488.36,277.25 L489.02,277.27 L489.69,277.29 L490.36,277.30 L491.02,277.32 L491.69,277.33 L492.35,277.35 L493.01,277.36 L493.68,277.37 L494.34,277.38 L495.00,277.39 L495.66,277.39 L496.32,277.40 L496.98,277.40 L497.64,277.40 L498.30,277.41 L498.95,277.41 L499.61,277.41 L500.27,277.40 L500.93,277.40 L501.58,277.40 L502.24,277.39 L502.89,277.39 L503.55,277.38 L504.21,277.38 L504.86,277.37 L505.52,277.36 L506.17,277.36 L506.83,277.35 L507.48,277.34 L508.14,277.33 L508.79,277.32 L509.45,277.31 L510.10,277.30 L510.76,277.29 L511.42,277.28 L512.07,277.27 L512.73,277.26 L513.38,277.25 L514.04,277.24 L514.70,277.23 L515.36,277.22 L516.01,277.22 L516.67,277.21 L517.33,277.20 L517.99,277.19 L518.65,277.18 L519.31,277.18 L519.97,277.17 L520.63,277.17 L521.29,277.16 L521.96,277.16 L522.62,277.16 L523.28,277.16 L523.95,277.15 L524.61,277.16 L525.28,277.16 L525.95,277.16 L526.61,277.16 L527.28,277.16 L527.95,277.17 L528.62,277.17 L529.29,277.17 L529.96,277.17 L530.63,277.18 L531.30,277.18 L531.97,277.18 L532.64,277.18 L533.31,277.18 L533.99,277.18 L534.66,277.17 L535.33,277.17 L536.00,277.16 L536.67,277.15 L537.34,277.14 L538.01,277.13 L538.68,277.11 L539.35,277.10 L540.02,277.08 L540.69,277.05 L541.35,277.03 L542.02,277.00 L542.69,276.97 L543.35,276.93 L544.02,276.89 L544.68,276.85 L545.35,276.80 L546.01,276.75 L546.67,276.70 L547.33,276.64 L547.99,276.58 L548.65,276.51 L549.30,276.44 L549.96,276.36 L550.61,276.28 L551.27,276.19 L551.92,276.09 L552.57,275.99 L553.22,275.89 L553.86,275.78 L554.51,275.66 L555.15,275.54 L555.79,275.41 L556.43,275.27 L557.07,275.13 L557.71,274.98 L558.34,274.83 L558.97,274.66 L559.60,274.49 L560.23,274.31 L560.86,274.13 L561.48,273.93 L562.10,273.73 L562.72,273.52 L563.33,273.30 L563.95,273.08 L564.56,272.85 L565.17,272.60 L565.77,272.35 L566.38,272.10 L566.98,271.83 L567.57,271.56 L568.17,271.28 L568.76,270.99 L569.35,270.70 L569.93,270.40 L570.52,270.09 L571.09,269.77 L571.67,269.45 L572.24,269.12 L572.81,268.78 L573.38,268.44 L573.94,268.09 L574.49,267.73 L575.05,267.37 L575.60,267.00 L576.14,266.63 L576.69,266.25 L577.23,265.86 L577.76,265.47 L578.29,265.07 L578.82,264.66 L579.34,264.25 L579.86,263.83 L580.37,263.41 L580.88,262.98 L581.38,262.55 L581.88,262.11 L582.37,261.67 L582.86,261.22 L583.35,260.76 L583.83,260.30 L584.31,259.84 L584.78,259.37 L585.24,258.90 L585.70,258.42 L586.16,257.94 L586.61,257.45 L587.05,256.96 L587.49,256.46 L587.92,255.96 L588.35,255.46 L588.78,254.95 L589.19,254.44 L589.60,253.92 L590.01,253.40 L590.41,252.87 L590.81,252.35 L591.20,251.82 L591.58,251.28 L591.96,250.74 L592.34,250.20 L592.71,249.66 L593.07,249.11 L593.44,248.56 L593.79,248.00 L594.14,247.44 L594.49,246.88 L594.84,246.32 L595.18,245.75 L595.51,245.18 L595.84,244.61 L596.17,244.04 L596.49,243.46 L596.81,242.88 L597.13,242.30 L597.44,241.72 L597.75,241.13 L598.05,240.54 L598.36,239.95 L598.66,239.36 L598.95,238.77 L599.24,238.17 L599.53,237.57 L599.82,236.97 L600.11,236.37 L600.39,235.77 L600.67,235.17 L600.94,234.56 L601.22,233.96 L601.49,233.35 L601.76,232.74 L602.02,232.13 L602.29,231.52 L602.55,230.90 L602.81,230.29 L603.07,229.68 L603.33,229.06 L603.58,228.45 L603.84,227.83 L604.09,227.22 L604.34,226.60 L604.59,225.98 L604.84,225.36 L605.09,224.75 L605.33,224.13 L605.58,223.51 L605.82,222.89 L606.07,222.28 L606.31,221.66 L606.55,221.04 L606.79,220.42 L607.03,219.81 L607.28,219.19 L607.52,218.58 L607.76,217.96 L608.00,217.35 L608.24,216.73 L608.48,216.12 L608.72,215.51 L608.96,214.90 L609.20,214.29 L609.44,213.68 L609.69,213.07 L609.93,212.46 L610.17,211.86 L610.41,211.25 L610.65,210.65 L610.89,210.04 L611.14,209.44 L611.38,208.83 L611.62,208.23 L611.86,207.62 L612.10,207.02 L612.33,206.41 L612.57,205.80 L612.81,205.20 L613.04,204.59 L613.28,203.98 L613.51,203.38 L613.74,202.77 L613.98,202.16 L614.20,201.55 L614.43,200.93 L614.66,200.32 L614.88,199.70 L615.11,199.09 L615.33,198.47 L615.55,197.85 L615.76,197.23 L615.98,196.60 L616.19,195.98 L616.40,195.35 L616.61,194.72 L616.82,194.09 L617.02,193.45 L617.22,192.81 L617.42,192.17 L617.62,191.53 L617.81,190.89 L618.00,190.24 L618.19,189.59 L618.37,188.93 L618.55,188.27 L618.73,187.61 L618.90,186.95 L619.07,186.28 L619.24,185.61 L619.40,184.93 L619.57,184.25 L619.72,183.57 L619.89,182.89 L620.05,182.21 L620.23,181.53 L620.41,180.86 L620.61,180.20 L620.82,179.55 L621.06,178.92 L621.32,178.29 L621.60,177.69 L621.91,177.10 L622.25,176.53 L622.62,175.98 L623.03,175.46 L623.48,174.98 L623.94,174.53 L624.43,174.13 L624.93,173.78 L625.45,173.49 L625.96,173.28 L626.47,173.13 L626.98,173.08 L627.48,173.10 L627.96,173.22 L628.43,173.41 L628.89,173.67 L629.33,173.99 L629.76,174.38 L630.17,174.83 L630.57,175.32 L630.96,175.86 L631.33,176.44 L631.68,177.05 L632.02,177.69 L632.34,178.35 L632.64,179.02 L632.92,179.71 L633.19,180.41 L633.43,181.10 L633.66,181.79 L633.87,182.48 L634.06,183.16 L634.24,183.85 L634.40,184.53 L634.54,185.20 L634.67,185.88 L634.79,186.55 L634.89,187.22 L634.98,187.88 L635.06,188.55 L635.13,189.21 L635.19,189.87 L635.24,190.53 L635.29,191.19 L635.32,191.85 L635.35,192.51 L635.37,193.16 L635.38,193.81 L635.39,194.47 L635.40,195.12 L635.40,195.77 L635.40,196.42 L635.39,197.07 L635.39,197.72 L635.39,198.37 L635.38,199.02 L635.38,199.67 L635.38,200.32 L635.38,200.97 L635.38,201.62 L635.39,202.27 L635.39,202.92 L635.40,203.57 L635.41,204.22 L635.43,204.88 L635.44,205.53 L635.46,206.18 L635.47,206.83 L635.49,207.49 L635.51,208.14 L635.54,208.79 L635.56,209.45 L635.59,210.10 L635.61,210.75 L635.64,211.41 L635.67,212.06 L635.70,212.72 L635.73,213.37 L635.76,214.03 L635.80,214.69 L635.83,215.34 L635.87,216.00 L635.91,216.66 L635.94,217.31 L635.98,217.97 L636.02,218.63 L636.06,219.28 L636.10,219.94 L636.14,220.60 L636.18,221.26 L636.23,221.92 L636.27,222.58 L636.31,223.24 L636.35,223.90 L636.40,224.56 L636.44,225.22 L636.48,225.88 L636.53,226.54 L636.57,227.20 L636.62,227.86 L636.66,228.52 L636.70,229.18 L636.75,229.84 L636.79,230.51 L636.83,231.17 L636.88,231.83 L636.92,232.49 L636.96,233.16 L637.00,233.82 L637.04,234.48 L637.08,235.15 L637.12,235.81 L637.16,236.47 L637.20,237.14 L637.24,237.80 L637.28,238.47 L637.31,239.13 L637.35,239.80 L637.38,240.46 L637.41,241.13 L637.45,241.80 L637.48,242.46 L637.51,243.13 L637.54,243.80 L637.56,244.46 L637.59,245.13 L637.61,245.80 L637.64,246.47 L637.66,247.13 L637.68,247.80 L637.70,248.47 L637.71,249.14 L637.73,249.81 L637.74,250.48 L637.75,251.15 L637.76,251.82 L637.77,252.48 L637.77,253.15 L637.78,253.82 L637.78,254.50 L637.78,255.17 L637.78,255.84 L637.77,256.51 L637.76,257.18 L637.75,257.85 L637.74,258.52 L637.73,259.19 L637.71,259.87 L637.69,260.54 L637.67,261.21 L637.64,261.88 L637.62,262.56 L637.59,263.23 L637.56,263.90 L637.53,264.57 L637.51,265.24 L637.49,265.91 L637.48,266.57 L637.48,267.23 L637.50,267.89 L637.52,268.54 L637.57,269.19 L637.63,269.83 L637.70,270.47 L637.80,271.10 L637.93,271.72 L638.08,272.34 L638.25,272.95 L638.46,273.55 L638.69,274.13 L638.96,274.71 L639.26,275.28 L639.60,275.84 L639.98,276.39 L640.40,276.93 L640.86,277.45 L739,277.5" stroke="#ff0000"/>
<path d="M465.96,278.88 L466.69,278.72 L467.42,278.57 L468.15,278.43 L468.87,278.30 L469.60,278.18 L470.33,278.07 L471.06,277.96 L471.79,277.86 L472.52,277.77 L473.25,277.69 L473.98,277.61 L474.71,277.54 L475.44,277.48 L476.17,277.42 L476.90,277.36 L477.63,277.32 L478.36,277.28 L479.09,277.24 L479.82,277.21 L480.56,277.18 L481.29,277.16 L482.02,277.14 L482.75,277.13 L483.49,277.12 L484.22,277.11 L484.95,277.11 L485.69,277.10 L486.42,277.11 L487.16,277.11 L487.89,277.12 L488.63,277.13 L489.36,277.14 L490.10,277.15 L490.83,277.17 L491.57,277.18 L492.31,277.20 L493.04,277.22 L493.78,277.23 L494.52,277.25 L495.25,277.27 L495.99,277.29 L496.73,277.31 L497.47,277.32 L498.20,277.34 L498.94,277.35 L499.68,277.37 L500.42,277.38 L501.16,277.39 L501.90,277.40 L502.64,277.40 L503.38,277.41 L504.12,277.41 L504.86,277.42 L505.60,277.42 L506.34,277.42 L507.08,277.42 L507.82,277.42 L508.56,277.41 L509.30,277.41 L510.04,277.40 L510.78,277.40 L511.52,277.39 L512.26,277.38 L513.00,277.37 L513.74,277.36 L514.47,277.35 L515.21,277.34 L515.95,277.33 L516.69,277.32 L517.43,277.31 L518.17,277.30 L518.90,277.28 L519.64,277.27 L520.38,277.26 L521.12,277.24 L521.85,277.23 L522.59,277.21 L523.32,277.20 L524.06,277.19 L524.79,277.17 L525.52,277.16 L526.26,277.15 L526.99,277.13 L527.72,277.12 L528.45,277.11 L529.18,277.09 L529.91,277.08 L530.64,277.07 L531.37,277.06 L532.10,277.05 L532.83,277.04 L533.56,277.03 L534.28,277.01 L535.01,277.00 L535.74,276.98 L536.46,276.97 L537.19,276.95 L537.92,276.92 L538.64,276.90 L539.37,276.87 L540.10,276.84 L540.82,276.81 L541.55,276.77 L542.28,276.72 L543.01,276.67 L543.73,276.62 L544.46,276.56 L545.19,276.50 L545.92,276.43 L546.66,276.36 L547.39,276.27 L548.12,276.19 L548.86,276.09 L549.59,275.99 L550.33,275.88 L551.07,275.76 L551.81,275.63 L552.54,275.50 L553.28,275.36 L554.02,275.20 L554.76,275.05 L555.50,274.88 L556.23,274.70 L556.96,274.52 L557.69,274.33 L558.42,274.12 L559.15,273.91 L559.87,273.69 L560.59,273.47 L561.31,273.23 L562.02,272.98 L562.73,272.72 L563.43,272.46 L564.13,272.18 L564.82,271.90 L565.50,271.60 L566.18,271.30 L566.86,270.99 L567.52,270.66 L568.18,270.33 L568.83,269.98 L569.48,269.63 L570.11,269.26 L570.74,268.89 L571.36,268.50 L571.97,268.11 L572.57,267.70 L573.16,267.28 L573.75,266.86 L574.32,266.42 L574.89,265.98 L575.45,265.52 L576.01,265.06 L576.55,264.59 L577.09,264.11 L577.62,263.62 L578.15,263.12 L578.66,262.62 L579.17,262.11 L579.67,261.59 L580.17,261.06 L580.66,260.53 L581.14,259.99 L581.62,259.44 L582.09,258.88 L582.55,258.32 L583.01,257.75 L583.46,257.18 L583.90,256.60 L584.34,256.02 L584.78,255.43 L585.21,254.83 L585.63,254.23 L586.05,253.62 L586.46,253.01 L586.87,252.40 L587.27,251.78 L587.67,251.15 L588.06,250.53 L588.45,249.90 L588.83,249.26 L589.21,248.62 L589.58,247.98 L589.96,247.34 L590.32,246.69 L590.69,246.04 L591.04,245.39 L591.40,244.73 L591.75,244.07 L592.10,243.41 L592.44,242.75 L592.79,242.09 L593.12,241.43 L593.46,240.76 L593.79,240.10 L594.12,239.43 L594.45,238.77 L594.77,238.10 L595.10,237.43 L595.41,236.76 L595.73,236.09 L596.04,235.42 L596.36,234.75 L596.66,234.08 L596.97,233.40 L597.28,232.73 L597.58,232.06 L597.88,231.38 L598.17,230.71 L598.47,230.03 L598.76,229.36 L599.05,228.68 L599.34,228.00 L599.62,227.32 L599.91,226.65 L600.19,225.97 L600.47,225.29 L600.75,224.61 L601.02,223.93 L601.29,223.24 L601.57,222.56 L601.84,221.88 L602.10,221.20 L602.37,220.51 L602.63,219.83 L602.90,219.14 L603.16,218.46 L603.42,217.77 L603.67,217.08 L603.93,216.40 L604.18,215.71 L604.44,215.02 L604.69,214.33 L604.94,213.64 L605.19,212.95 L605.43,212.26 L605.68,211.57 L605.92,210.88 L606.17,210.19 L606.41,209.50 L606.65,208.81 L606.89,208.11 L607.13,207.42 L607.36,206.73 L607.60,206.03 L607.83,205.34 L608.07,204.64 L608.30,203.95 L608.53,203.25 L608.76,202.56 L608.99,201.86 L609.22,201.16 L609.45,200.46 L609.68,199.77 L609.91,199.07 L610.13,198.37 L610.36,197.67 L610.58,196.97 L610.81,196.27 L611.03,195.57 L611.25,194.87 L611.47,194.17 L611.70,193.47 L611.92,192.77 L612.14,192.07 L612.36,191.37 L612.58,190.66 L612.80,189.96 L613.02,189.26 L613.24,188.55 L613.46,187.85 L613.68,187.15 L613.90,186.44 L614.12,185.74 L614.33,185.03 L614.55,184.33 L614.77,183.63 L614.99,182.92 L615.21,182.21 L615.43,181.51 L615.65,180.80 L615.87,180.10 L616.09,179.39 L616.31,178.68 L616.53,177.98 L616.75,177.27 L616.97,176.56 L617.19,175.86 L617.41,175.15 L617.63,174.44 L617.85,173.73 L618.08,173.02 L618.30,172.32 L618.52,171.61 L618.75,170.90 L618.97,170.19 L619.20,169.48 L619.42,168.77 L619.65,168.06 L619.88,167.36 L620.12,166.65 L620.35,165.94 L620.59,165.24 L620.83,164.53 L621.08,163.83 L621.33,163.13 L621.59,162.43 L621.85,161.73 L622.12,161.04 L622.40,160.35 L622.68,159.66 L622.97,158.97 L623.27,158.29 L623.58,157.61 L623.90,156.93 L624.23,156.26 L624.57,155.59 L624.91,154.93 L625.27,154.27 L625.65,153.62 L626.03,153.02 L626.42,152.50 L626.83,152.12 L627.25,151.90 L627.68,151.89 L628.12,152.10 L628.56,152.48 L628.99,153.00 L629.41,153.60 L629.81,154.24 L630.19,154.90 L630.53,155.57 L630.86,156.25 L631.16,156.94 L631.44,157.63 L631.70,158.33 L631.94,159.04 L632.16,159.75 L632.37,160.47 L632.56,161.19 L632.74,161.92 L632.90,162.65 L633.05,163.39 L633.19,164.13 L633.33,164.87 L633.45,165.61 L633.57,166.36 L633.68,167.10 L633.79,167.85 L633.90,168.59 L634.00,169.34 L634.11,170.08 L634.21,170.83 L634.32,171.57 L634.43,172.31 L634.53,173.05 L634.64,173.78 L634.75,174.52 L634.86,175.26 L634.97,175.99 L635.07,176.72 L635.18,177.45 L635.29,178.18 L635.40,178.91 L635.51,179.64 L635.61,180.37 L635.72,181.10 L635.82,181.83 L635.93,182.55 L636.03,183.28 L636.14,184.00 L636.24,184.73 L636.34,185.45 L636.44,186.18 L636.54,186.90 L636.63,187.63 L636.73,188.35 L636.82,189.07 L636.91,189.80 L637.00,190.52 L637.09,191.25 L637.17,191.97 L637.26,192.69 L637.34,193.42 L637.42,194.14 L637.49,194.87 L637.57,195.59 L637.64,196.32 L637.70,197.05 L637.77,197.77 L637.83,198.50 L637.89,199.23 L637.95,199.96 L638.01,200.69 L638.06,201.42 L638.12,202.15 L638.17,202.88 L638.21,203.61 L638.26,204.34 L638.30,205.07 L638.35,205.80 L638.39,206.53 L638.42,207.27 L638.46,208.00 L638.50,208.73 L638.53,209.47 L638.56,210.20 L638.59,210.93 L638.62,211.67 L638.65,212.40 L638.67,213.14 L638.70,213.87 L638.72,214.61 L638.74,215.35 L638.76,216.08 L638.78,216.82 L638.80,217.56 L638.82,218.29 L638.83,219.03 L638.85,219.77 L638.86,220.50 L638.87,221.24 L638.89,221.98 L638.90,222.72 L638.91,223.46 L638.92,224.20 L638.93,224.94 L638.94,225.67 L638.95,226.41 L638.96,227.15 L638.97,227.89 L638.97,228.63 L638.98,229.37 L638.99,230.11 L638.99,230.85 L639.00,231.59 L639.01,232.33 L639.01,233.07 L639.02,233.81 L639.03,234.56 L639.03,235.30 L639.04,236.04 L639.05,236.78 L639.06,237.52 L639.06,238.26 L639.07,239.00 L639.08,239.74 L639.09,240.48 L639.10,241.22 L639.11,241.97 L639.12,242.71 L639.13,243.45 L639.14,244.19 L639.15,244.93 L639.17,245.67 L639.18,246.41 L639.20,247.15 L639.21,247.89 L639.23,248.64 L639.25,249.38 L639.27,250.12 L639.29,250.86 L639.31,251.60 L639.33,252.34 L639.36,253.08 L639.38,253.82 L639.41,254.56 L639.44,255.30 L639.47,256.04 L639.50,256.78 L639.53,257.52 L639.57,258.26 L639.61,259.00 L639.64,259.74 L639.68,260.48 L639.73,261.22 L639.77,261.96 L639.82,262.70 L639.86,263.43 L639.91,264.17 L639.97,264.91 L640.02,265.65 L640.08,266.38 L640.14,267.12 L640.21,267.85 L640.29,268.58 L640.37,269.31 L640.47,270.03 L640.58,270.75 L640.71,271.45 L640.85,272.16 L641.01,272.85 L641.19,273.53 L641.39,274.21 L641.61,274.87 L641.85,275.53 L642.13,276.17 L642.43,276.80 L642.75,277.41 L739,277.5" stroke="#0000ff"/>
<path d="M465.97,278.84 L466.79,278.68 L467.61,278.53 L468.43,278.39 L469.25,278.25 L470.07,278.13 L470.89,278.01 L471.71,277.91 L472.53,277.81 L473.35,277.72 L474.18,277.63 L475.00,277.55 L475.83,277.49 L476.65,277.42 L477.48,277.37 L478.31,277.32 L479.13,277.27 L479.96,277.23 L480.79,277.20 L481.62,277.17 L482.45,277.15 L483.28,277.13 L484.10,277.11 L484.94,277.10 L485.77,277.10 L486.60,277.09 L487.43,277.09 L488.26,277.10 L489.09,277.10 L489.92,277.11 L490.76,277.12 L491.59,277.13 L492.42,277.15 L493.25,277.16 L494.09,277.18 L494.92,277.20 L495.75,277.21 L496.59,277.23 L497.42,277.25 L498.25,277.27 L499.08,277.29 L499.92,277.30 L500.75,277.32 L501.58,277.33 L502.42,277.35 L503.25,277.36 L504.08,277.37 L504.92,277.38 L505.75,277.39 L506.58,277.40 L507.41,277.40 L508.25,277.41 L509.08,277.41 L509.91,277.42 L510.74,277.42 L511.58,277.42 L512.41,277.42 L513.24,277.42 L514.07,277.41 L514.90,277.41 L515.74,277.41 L516.57,277.40 L517.40,277.39 L518.23,277.38 L519.06,277.37 L519.90,277.36 L520.73,277.35 L521.56,277.34 L522.39,277.32 L523.22,277.31 L524.06,277.29 L524.89,277.27 L525.72,277.25 L526.55,277.23 L527.38,277.21 L528.21,277.19 L529.04,277.16 L529.87,277.14 L530.71,277.11 L531.54,277.08 L532.37,277.05 L533.20,277.02 L534.03,276.98 L534.86,276.95 L535.69,276.91 L536.52,276.86 L537.35,276.82 L538.17,276.76 L539.00,276.71 L539.83,276.65 L540.65,276.58 L541.48,276.51 L542.30,276.44 L543.13,276.36 L543.95,276.27 L544.77,276.18 L545.59,276.08 L546.41,275.97 L547.22,275.85 L548.04,275.73 L548.85,275.60 L549.67,275.47 L550.48,275.32 L551.29,275.17 L552.10,275.00 L552.91,274.83 L553.71,274.65 L554.51,274.45 L555.31,274.25 L556.11,274.04 L556.91,273.82 L557.71,273.58 L558.50,273.33 L559.29,273.08 L560.08,272.81 L560.87,272.53 L561.65,272.23 L562.43,271.92 L563.21,271.60 L563.99,271.27 L564.76,270.92 L565.53,270.56 L566.29,270.19 L567.05,269.80 L567.79,269.40 L568.54,268.99 L569.27,268.57 L570.00,268.13 L570.71,267.67 L571.42,267.21 L572.11,266.73 L572.79,266.23 L573.47,265.73 L574.12,265.21 L574.77,264.67 L575.40,264.13 L576.01,263.57 L576.61,262.99 L577.19,262.41 L577.76,261.81 L578.31,261.19 L578.84,260.57 L579.36,259.93 L579.86,259.28 L580.35,258.62 L580.83,257.95 L581.29,257.27 L581.75,256.58 L582.19,255.89 L582.62,255.19 L583.05,254.48 L583.46,253.76 L583.87,253.04 L584.27,252.32 L584.67,251.59 L585.05,250.86 L585.44,250.13 L585.82,249.39 L586.20,248.65 L586.57,247.91 L586.94,247.17 L587.31,246.42 L587.67,245.68 L588.03,244.93 L588.39,244.18 L588.74,243.43 L589.10,242.68 L589.44,241.92 L589.79,241.17 L590.13,240.41 L590.47,239.65 L590.80,238.89 L591.14,238.13 L591.47,237.37 L591.79,236.61 L592.12,235.84 L592.44,235.07 L592.76,234.31 L593.08,233.54 L593.39,232.77 L593.70,232.00 L594.01,231.23 L594.32,230.45 L594.63,229.68 L594.93,228.90 L595.23,228.13 L595.53,227.35 L595.83,226.57 L596.12,225.80 L596.41,225.02 L596.71,224.24 L597.00,223.46 L597.28,222.67 L597.57,221.89 L597.85,221.11 L598.13,220.33 L598.41,219.54 L598.69,218.76 L598.97,217.97 L599.24,217.18 L599.51,216.40 L599.78,215.61 L600.05,214.82 L600.32,214.03 L600.59,213.24 L600.85,212.45 L601.11,211.66 L601.37,210.87 L601.63,210.08 L601.89,209.28 L602.14,208.49 L602.39,207.70 L602.64,206.90 L602.89,206.11 L603.14,205.31 L603.39,204.52 L603.63,203.72 L603.88,202.92 L604.12,202.12 L604.36,201.33 L604.60,200.53 L604.83,199.73 L605.07,198.93 L605.30,198.13 L605.53,197.33 L605.76,196.53 L605.99,195.73 L606.22,194.93 L606.45,194.13 L606.67,193.32 L606.89,192.52 L607.11,191.72 L607.33,190.92 L607.55,190.11 L607.77,189.31 L607.98,188.50 L608.20,187.70 L608.41,186.90 L608.62,186.09 L608.83,185.29 L609.04,184.48 L609.25,183.67 L609.45,182.87 L609.66,182.06 L609.86,181.26 L610.06,180.45 L610.26,179.64 L610.46,178.84 L610.66,178.03 L610.86,177.22 L611.05,176.41 L611.25,175.61 L611.44,174.80 L611.63,173.99 L611.82,173.18 L612.01,172.38 L612.20,171.57 L612.39,170.76 L612.57,169.95 L612.76,169.14 L612.94,168.34 L613.12,167.53 L613.30,166.72 L613.48,165.91 L613.66,165.10 L613.84,164.30 L614.01,163.49 L614.19,162.68 L614.36,161.87 L614.54,161.06 L614.71,160.26 L614.88,159.45 L615.05,158.64 L615.22,157.83 L615.39,157.03 L615.56,156.22 L615.72,155.41 L615.89,154.60 L616.05,153.80 L616.22,152.99 L616.38,152.18 L616.54,151.38 L616.71,150.57 L616.87,149.76 L617.04,148.96 L617.21,148.15 L617.38,147.34 L617.56,146.53 L617.74,145.72 L617.93,144.92 L618.12,144.11 L618.32,143.29 L618.52,142.48 L618.73,141.67 L618.95,140.86 L619.17,140.04 L619.41,139.23 L619.65,138.41 L619.90,137.59 L620.16,136.77 L620.44,135.95 L620.72,135.13 L621.02,134.31 L621.33,133.48 L621.65,132.65 L621.98,131.83 L622.33,131.00 L622.70,130.16 L623.08,129.33 L623.47,128.53 L623.88,127.79 L624.30,127.16 L624.74,126.68 L625.20,126.37 L625.66,126.28 L626.15,126.44 L626.64,126.80 L627.13,127.34 L627.62,128.00 L628.09,128.76 L628.55,129.58 L628.99,130.41 L629.39,131.24 L629.77,132.08 L630.13,132.91 L630.46,133.73 L630.77,134.56 L631.06,135.39 L631.32,136.21 L631.57,137.04 L631.79,137.86 L632.00,138.68 L632.19,139.50 L632.37,140.32 L632.52,141.14 L632.67,141.96 L632.80,142.78 L632.92,143.59 L633.03,144.41 L633.12,145.23 L633.21,146.05 L633.29,146.86 L633.36,147.68 L633.42,148.50 L633.48,149.31 L633.54,150.13 L633.59,150.95 L633.64,151.77 L633.68,152.59 L633.73,153.41 L633.77,154.23 L633.82,155.05 L633.87,155.88 L633.92,156.70 L633.96,157.53 L634.01,158.35 L634.06,159.18 L634.11,160.01 L634.16,160.83 L634.21,161.66 L634.27,162.49 L634.32,163.32 L634.37,164.15 L634.42,164.98 L634.47,165.81 L634.53,166.64 L634.58,167.47 L634.63,168.31 L634.69,169.14 L634.74,169.97 L634.79,170.81 L634.85,171.64 L634.90,172.47 L634.95,173.31 L635.01,174.14 L635.06,174.98 L635.11,175.81 L635.17,176.65 L635.22,177.48 L635.27,178.32 L635.32,179.15 L635.37,179.99 L635.43,180.82 L635.48,181.66 L635.53,182.49 L635.58,183.33 L635.63,184.16 L635.68,185.00 L635.73,185.83 L635.77,186.67 L635.82,187.50 L635.87,188.33 L635.92,189.17 L635.96,190.00 L636.01,190.83 L636.05,191.66 L636.09,192.50 L636.14,193.33 L636.18,194.16 L636.22,194.99 L636.26,195.82 L636.30,196.65 L636.34,197.48 L636.38,198.31 L636.42,199.14 L636.45,199.97 L636.49,200.80 L636.53,201.63 L636.56,202.46 L636.60,203.29 L636.63,204.11 L636.67,204.94 L636.70,205.77 L636.74,206.60 L636.77,207.43 L636.80,208.25 L636.83,209.08 L636.86,209.91 L636.90,210.74 L636.93,211.56 L636.96,212.39 L636.99,213.22 L637.02,214.04 L637.04,214.87 L637.07,215.70 L637.10,216.52 L637.13,217.35 L637.16,218.18 L637.18,219.01 L637.21,219.83 L637.24,220.66 L637.26,221.49 L637.29,222.31 L637.32,223.14 L637.34,223.97 L637.37,224.79 L637.39,225.62 L637.42,226.45 L637.44,227.28 L637.47,228.11 L637.49,228.93 L637.51,229.76 L637.54,230.59 L637.56,231.42 L637.59,232.25 L637.61,233.08 L637.63,233.90 L637.66,234.73 L637.68,235.56 L637.70,236.39 L637.73,237.22 L637.75,238.05 L637.77,238.88 L637.80,239.71 L637.82,240.55 L637.84,241.38 L637.87,242.21 L637.89,243.04 L637.91,243.87 L637.94,244.71 L637.96,245.54 L637.98,246.37 L638.01,247.21 L638.03,248.04 L638.06,248.88 L638.08,249.71 L638.10,250.55 L638.13,251.38 L638.15,252.22 L638.18,253.06 L638.20,253.89 L638.23,254.73 L638.25,255.57 L638.28,256.41 L638.30,257.25 L638.33,258.09 L638.36,258.93 L638.38,259.77 L638.41,260.61 L638.44,261.45 L638.47,262.30 L638.49,263.14 L638.52,263.98 L638.55,264.83 L638.58,265.67 L638.61,266.52 L638.65,267.36 L638.70,268.20 L638.76,269.03 L638.84,269.86 L638.94,270.68 L639.06,271.49 L639.21,272.28 L639.39,273.07 L639.60,273.83 L639.85,274.58 L640.15,275.32 L640.49,276.03 L640.87,276.72 L641.31,277.39 L739,277.5" stroke="#999900"/>
<path d="M465.86,278.76 L466.82,278.61 L467.78,278.47 L468.73,278.34 L469.69,278.21 L470.64,278.10 L471.60,277.99 L472.55,277.89 L473.51,277.79 L474.46,277.70 L475.41,277.62 L476.36,277.55 L477.31,277.48 L478.26,277.42 L479.21,277.36 L480.16,277.31 L481.11,277.27 L482.06,277.23 L483.01,277.19 L483.96,277.16 L484.90,277.13 L485.85,277.11 L486.80,277.10 L487.74,277.08 L488.69,277.07 L489.63,277.07 L490.58,277.06 L491.52,277.06 L492.47,277.07 L493.41,277.07 L494.35,277.08 L495.30,277.09 L496.24,277.11 L497.19,277.12 L498.13,277.14 L499.07,277.15 L500.01,277.17 L500.96,277.19 L501.90,277.21 L502.84,277.24 L503.79,277.26 L504.73,277.28 L505.67,277.30 L506.61,277.32 L507.56,277.34 L508.50,277.36 L509.44,277.38 L510.38,277.40 L511.33,277.42 L512.27,277.44 L513.21,277.45 L514.16,277.46 L515.10,277.47 L516.04,277.48 L516.99,277.49 L517.93,277.49 L518.88,277.49 L519.82,277.49 L520.77,277.48 L521.71,277.47 L522.66,277.45 L523.61,277.44 L524.55,277.41 L525.50,277.39 L526.45,277.35 L527.39,277.32 L528.34,277.28 L529.29,277.23 L530.24,277.18 L531.19,277.12 L532.14,277.06 L533.09,276.99 L534.04,276.91 L535.00,276.83 L535.95,276.74 L536.90,276.64 L537.86,276.54 L538.81,276.43 L539.77,276.31 L540.72,276.18 L541.68,276.05 L542.64,275.91 L543.59,275.76 L544.55,275.60 L545.50,275.43 L546.46,275.25 L547.41,275.06 L548.36,274.87 L549.30,274.66 L550.24,274.44 L551.18,274.22 L552.12,273.98 L553.05,273.73 L553.98,273.47 L554.90,273.20 L555.81,272.91 L556.72,272.62 L557.63,272.31 L558.52,271.99 L559.41,271.66 L560.30,271.31 L561.17,270.96 L562.04,270.58 L562.90,270.20 L563.75,269.80 L564.59,269.39 L565.42,268.96 L566.24,268.52 L567.05,268.06 L567.84,267.59 L568.63,267.10 L569.41,266.60 L570.17,266.08 L570.92,265.54 L571.66,264.99 L572.39,264.42 L573.10,263.84 L573.80,263.24 L574.48,262.62 L575.15,261.98 L575.80,261.33 L576.44,260.65 L577.06,259.96 L577.67,259.26 L578.27,258.54 L578.85,257.80 L579.41,257.05 L579.97,256.29 L580.51,255.51 L581.04,254.73 L581.56,253.93 L582.07,253.12 L582.57,252.30 L583.06,251.47 L583.53,250.63 L584.00,249.78 L584.46,248.93 L584.91,248.07 L585.36,247.21 L585.79,246.34 L586.22,245.46 L586.64,244.58 L587.05,243.70 L587.46,242.82 L587.86,241.94 L588.26,241.05 L588.65,240.17 L589.04,239.28 L589.43,238.40 L589.81,237.51 L590.18,236.63 L590.55,235.75 L590.92,234.86 L591.29,233.98 L591.65,233.10 L592.00,232.22 L592.35,231.34 L592.70,230.45 L593.05,229.57 L593.39,228.69 L593.73,227.81 L594.06,226.93 L594.39,226.04 L594.72,225.16 L595.04,224.28 L595.36,223.39 L595.68,222.51 L595.99,221.62 L596.30,220.74 L596.61,219.85 L596.91,218.96 L597.21,218.07 L597.51,217.18 L597.80,216.29 L598.09,215.40 L598.38,214.50 L598.67,213.61 L598.95,212.71 L599.23,211.81 L599.51,210.91 L599.78,210.01 L600.06,209.11 L600.33,208.21 L600.59,207.31 L600.86,206.40 L601.12,205.49 L601.38,204.59 L601.63,203.68 L601.89,202.77 L602.14,201.86 L602.39,200.95 L602.64,200.03 L602.88,199.12 L603.12,198.20 L603.36,197.29 L603.60,196.37 L603.84,195.45 L604.07,194.54 L604.30,193.62 L604.53,192.70 L604.76,191.77 L604.99,190.85 L605.21,189.93 L605.43,189.01 L605.65,188.08 L605.87,187.16 L606.09,186.23 L606.30,185.31 L606.51,184.38 L606.72,183.45 L606.93,182.52 L607.14,181.60 L607.34,180.67 L607.55,179.74 L607.75,178.81 L607.95,177.88 L608.15,176.94 L608.35,176.01 L608.55,175.08 L608.74,174.15 L608.94,173.21 L609.13,172.28 L609.32,171.35 L609.51,170.41 L609.70,169.48 L609.89,168.54 L610.07,167.61 L610.26,166.67 L610.44,165.74 L610.62,164.80 L610.81,163.87 L610.99,162.93 L611.17,162.00 L611.35,161.06 L611.52,160.12 L611.70,159.19 L611.88,158.25 L612.05,157.31 L612.23,156.38 L612.40,155.44 L612.58,154.51 L612.75,153.57 L612.92,152.63 L613.10,151.70 L613.27,150.76 L613.44,149.82 L613.61,148.89 L613.78,147.95 L613.95,147.02 L614.12,146.08 L614.29,145.15 L614.45,144.21 L614.62,143.28 L614.79,142.35 L614.96,141.41 L615.13,140.48 L615.29,139.55 L615.46,138.61 L615.63,137.68 L615.79,136.75 L615.96,135.82 L616.13,134.89 L616.30,133.96 L616.46,133.03 L616.63,132.10 L616.80,131.17 L616.96,130.24 L617.13,129.31 L617.29,128.38 L617.46,127.46 L617.63,126.53 L617.79,125.60 L617.96,124.67 L618.12,123.74 L618.29,122.82 L618.45,121.89 L618.62,120.96 L618.78,120.04 L618.94,119.11 L619.11,118.18 L619.27,117.25 L619.43,116.33 L619.59,115.40 L619.76,114.47 L619.92,113.55 L620.08,112.62 L620.24,111.69 L620.40,110.77 L620.56,109.84 L620.72,108.91 L620.89,107.97 L621.08,107.04 L621.27,106.09 L621.49,105.14 L621.72,104.18 L621.98,103.21 L622.27,102.22 L622.58,101.23 L622.93,100.21 L623.32,99.19 L623.74,98.19 L624.19,97.27 L624.65,96.48 L625.14,95.86 L625.63,95.48 L626.12,95.38 L626.60,95.58 L627.08,96.04 L627.55,96.70 L628.00,97.53 L628.43,98.47 L628.83,99.47 L629.21,100.49 L629.56,101.50 L629.88,102.50 L630.18,103.49 L630.45,104.48 L630.69,105.46 L630.92,106.43 L631.12,107.39 L631.30,108.35 L631.47,109.30 L631.62,110.25 L631.75,111.20 L631.87,112.14 L631.97,113.08 L632.06,114.01 L632.14,114.94 L632.22,115.87 L632.28,116.80 L632.34,117.72 L632.40,118.65 L632.45,119.57 L632.49,120.50 L632.54,121.43 L632.59,122.35 L632.64,123.28 L632.69,124.21 L632.75,125.14 L632.81,126.08 L632.87,127.02 L632.94,127.96 L633.02,128.90 L633.10,129.84 L633.18,130.79 L633.26,131.74 L633.35,132.69 L633.43,133.64 L633.52,134.59 L633.61,135.54 L633.70,136.50 L633.78,137.45 L633.87,138.40 L633.95,139.36 L634.04,140.31 L634.12,141.26 L634.20,142.21 L634.27,143.17 L634.35,144.12 L634.42,145.07 L634.49,146.02 L634.56,146.98 L634.62,147.93 L634.69,148.88 L634.75,149.83 L634.81,150.78 L634.87,151.73 L634.92,152.68 L634.98,153.63 L635.03,154.58 L635.08,155.53 L635.14,156.48 L635.18,157.43 L635.23,158.38 L635.28,159.33 L635.32,160.28 L635.36,161.23 L635.41,162.17 L635.45,163.12 L635.49,164.07 L635.52,165.02 L635.56,165.97 L635.60,166.92 L635.63,167.86 L635.67,168.81 L635.70,169.76 L635.73,170.71 L635.76,171.65 L635.79,172.60 L635.82,173.55 L635.85,174.50 L635.88,175.44 L635.90,176.39 L635.93,177.34 L635.96,178.28 L635.98,179.23 L636.01,180.18 L636.03,181.13 L636.06,182.07 L636.08,183.02 L636.11,183.97 L636.13,184.91 L636.15,185.86 L636.18,186.81 L636.20,187.75 L636.22,188.70 L636.24,189.65 L636.27,190.59 L636.29,191.54 L636.31,192.49 L636.33,193.43 L636.35,194.38 L636.38,195.33 L636.40,196.27 L636.42,197.22 L636.44,198.17 L636.46,199.12 L636.48,200.06 L636.50,201.01 L636.52,201.96 L636.54,202.90 L636.56,203.85 L636.58,204.80 L636.60,205.75 L636.62,206.69 L636.64,207.64 L636.66,208.59 L636.68,209.54 L636.70,210.48 L636.72,211.43 L636.74,212.38 L636.76,213.33 L636.78,214.27 L636.80,215.22 L636.82,216.17 L636.84,217.12 L636.86,218.07 L636.88,219.01 L636.89,219.96 L636.91,220.91 L636.93,221.86 L636.95,222.81 L636.97,223.76 L636.99,224.71 L637.01,225.66 L637.03,226.61 L637.04,227.55 L637.06,228.50 L637.08,229.45 L637.10,230.40 L637.12,231.35 L637.14,232.30 L637.16,233.25 L637.17,234.20 L637.19,235.15 L637.21,236.10 L637.23,237.05 L637.25,238.01 L637.27,238.96 L637.29,239.91 L637.31,240.86 L637.33,241.81 L637.34,242.76 L637.36,243.71 L637.38,244.67 L637.40,245.62 L637.42,246.57 L637.44,247.52 L637.46,248.47 L637.48,249.43 L637.50,250.38 L637.52,251.33 L637.54,252.29 L637.56,253.24 L637.58,254.19 L637.60,255.15 L637.62,256.10 L637.64,257.06 L637.66,258.01 L637.68,258.97 L637.70,259.92 L637.72,260.88 L637.74,261.83 L637.77,262.79 L637.79,263.74 L637.81,264.70 L637.83,265.66 L637.86,266.61 L637.89,267.56 L637.94,268.51 L638.00,269.46 L638.09,270.39 L638.22,271.32 L638.37,272.23 L638.57,273.13 L638.81,274.02 L639.10,274.89 L639.45,275.74 L639.87,276.57 L640.34,277.39 L739,277.5" stroke="#8a0a0a"/>
<path d="M466.00,279.25 L466.60,279.08 L467.20,278.92 L467.80,278.77 L468.39,278.62 L468.99,278.49 L469.59,278.36 L470.19,278.25 L470.79,278.14 L471.39,278.03 L471.99,277.94 L472.59,277.85 L473.19,277.77 L473.80,277.69 L474.40,277.63 L475.00,277.56 L475.60,277.51 L476.20,277.46 L476.81,277.41 L477.41,277.38 L478.01,277.34 L478.62,277.31 L479.22,277.29 L479.82,277.27 L480.43,277.25 L481.03,277.24 L481.64,277.24 L482.25,277.23 L482.85,277.23 L483.46,277.23 L484.07,277.24 L484.67,277.25 L485.28,277.26 L485.89,277.27 L486.50,277.29 L487.11,277.30 L487.72,277.32 L488.33,277.34 L488.94,277.36 L489.55,277.38 L490.16,277.41 L490.78,277.43 L491.39,277.45 L492.00,277.48 L492.62,277.50 L493.23,277.52 L493.85,277.54 L494.46,277.56 L495.08,277.58 L495.70,277.60 L496.31,277.62 L496.93,277.64 L497.55,277.65 L498.17,277.66 L498.79,277.67 L499.41,277.67 L500.04,277.68 L500.66,277.68 L501.28,277.67 L501.90,277.67 L502.53,277.66 L503.15,277.64 L503.78,277.63 L504.40,277.60 L505.02,277.58 L505.65,277.55 L506.27,277.52 L506.89,277.48 L507.51,277.44 L508.14,277.39 L508.76,277.34 L509.37,277.28 L509.99,277.22 L510.61,277.15 L511.23,277.08 L511.84,277.00 L512.45,276.92 L513.06,276.83 L513.67,276.74 L514.28,276.64 L514.88,276.53 L515.49,276.42 L516.09,276.30 L516.69,276.18 L517.28,276.05 L517.87,275.91 L518.46,275.77 L519.05,275.62 L519.64,275.46 L520.22,275.29 L520.79,275.12 L521.37,274.94 L521.94,274.76 L522.51,274.56 L523.07,274.36 L523.63,274.15 L524.19,273.93 L524.74,273.71 L525.29,273.47 L525.83,273.23 L526.37,272.98 L526.90,272.72 L527.43,272.45 L527.96,272.17 L528.48,271.89 L528.99,271.59 L529.50,271.29 L530.01,270.98 L530.51,270.66 L531.00,270.33 L531.49,269.99 L531.98,269.64 L532.46,269.29 L532.94,268.93 L533.41,268.56 L533.88,268.19 L534.34,267.81 L534.80,267.42 L535.26,267.02 L535.71,266.62 L536.16,266.21 L536.60,265.80 L537.05,265.38 L537.48,264.96 L537.92,264.53 L538.35,264.09 L538.78,263.65 L539.20,263.21 L539.62,262.76 L540.04,262.31 L540.45,261.85 L540.87,261.39 L541.27,260.92 L541.68,260.46 L542.08,259.98 L542.49,259.51 L542.88,259.03 L543.28,258.55 L543.67,258.07 L544.07,257.58 L544.46,257.10 L544.84,256.61 L545.23,256.12 L545.61,255.63 L545.99,255.14 L546.37,254.64 L546.75,254.15 L547.13,253.65 L547.50,253.16 L547.88,252.66 L548.25,252.16 L548.62,251.67 L548.99,251.17 L549.36,250.67 L549.72,250.17 L550.09,249.67 L550.45,249.18 L550.81,248.68 L551.17,248.18 L551.53,247.68 L551.89,247.18 L552.24,246.68 L552.60,246.17 L552.95,245.67 L553.30,245.17 L553.65,244.67 L554.00,244.16 L554.34,243.66 L554.69,243.15 L555.03,242.65 L555.37,242.14 L555.71,241.63 L556.05,241.13 L556.39,240.62 L556.72,240.11 L557.05,239.60 L557.39,239.09 L557.72,238.58 L558.04,238.06 L558.37,237.55 L558.70,237.04 L559.02,236.52 L559.34,236.01 L559.66,235.49 L559.98,234.98 L560.30,234.46 L560.61,233.94 L560.93,233.42 L561.24,232.90 L561.55,232.38 L561.86,231.86 L562.17,231.34 L562.47,230.81 L562.77,230.29 L563.08,229.76 L563.38,229.24 L563.68,228.71 L563.97,228.18 L564.27,227.65 L564.56,227.12 L564.85,226.59 L565.14,226.05 L565.43,225.52 L565.72,224.98 L566.00,224.45 L566.28,223.91 L566.57,223.37 L566.85,222.83 L567.12,222.29 L567.40,221.75 L567.68,221.21 L567.95,220.67 L568.22,220.12 L568.49,219.58 L568.76,219.04 L569.03,218.49 L569.30,217.94 L569.56,217.39 L569.83,216.85 L570.09,216.30 L570.35,215.75 L570.61,215.19 L570.87,214.64 L571.13,214.09 L571.39,213.54 L571.64,212.98 L571.90,212.43 L572.15,211.87 L572.41,211.32 L572.66,210.76 L572.91,210.21 L573.16,209.65 L573.41,209.09 L573.66,208.53 L573.91,207.97 L574.15,207.41 L574.40,206.85 L574.65,206.29 L574.89,205.73 L575.13,205.17 L575.38,204.61 L575.62,204.05 L575.86,203.49 L576.11,202.92 L576.35,202.36 L576.59,201.80 L576.83,201.23 L577.07,200.67 L577.31,200.11 L577.55,199.54 L577.78,198.98 L578.02,198.41 L578.26,197.85 L578.50,197.28 L578.74,196.72 L578.97,196.15 L579.21,195.59 L579.45,195.02 L579.68,194.45 L579.92,193.89 L580.16,193.32 L580.39,192.76 L580.63,192.19 L580.87,191.62 L581.10,191.06 L581.34,190.49 L581.57,189.92 L581.81,189.36 L582.04,188.79 L582.28,188.22 L582.51,187.66 L582.75,187.09 L582.98,186.52 L583.21,185.96 L583.45,185.39 L583.68,184.82 L583.91,184.25 L584.14,183.69 L584.37,183.12 L584.60,182.55 L584.84,181.98 L585.06,181.41 L585.29,180.84 L585.52,180.28 L585.75,179.71 L585.98,179.14 L586.20,178.57 L586.43,178.00 L586.66,177.43 L586.88,176.86 L587.10,176.29 L587.33,175.72 L587.55,175.15 L587.77,174.58 L587.99,174.00 L588.21,173.43 L588.43,172.86 L588.65,172.29 L588.87,171.72 L589.08,171.14 L589.30,170.57 L589.51,170.00 L589.73,169.43 L589.94,168.85 L590.15,168.28 L590.36,167.70 L590.57,167.13 L590.78,166.55 L590.99,165.98 L591.19,165.40 L591.40,164.83 L591.60,164.25 L591.81,163.68 L592.01,163.10 L592.21,162.52 L592.41,161.94 L592.61,161.37 L592.80,160.79 L593.00,160.21 L593.19,159.63 L593.38,159.05 L593.58,158.47 L593.76,157.89 L593.95,157.31 L594.14,156.73 L594.33,156.15 L594.51,155.57 L594.69,154.98 L594.87,154.40 L595.05,153.82 L595.23,153.24 L595.41,152.65 L595.58,152.07 L595.76,151.48 L595.93,150.90 L596.10,150.31 L596.27,149.73 L596.43,149.14 L596.60,148.55 L596.76,147.96 L596.92,147.38 L597.08,146.79 L597.24,146.20 L597.40,145.61 L597.55,145.02 L597.71,144.43 L597.86,143.84 L598.01,143.25 L598.16,142.66 L598.31,142.07 L598.46,141.47 L598.60,140.88 L598.74,140.29 L598.89,139.69 L599.03,139.10 L599.17,138.51 L599.30,137.91 L599.44,137.32 L599.58,136.72 L599.71,136.13 L599.85,135.53 L599.98,134.94 L600.11,134.34 L600.24,133.74 L600.37,133.15 L600.49,132.55 L600.62,131.95 L600.75,131.35 L600.87,130.75 L600.99,130.16 L601.12,129.56 L601.24,128.96 L601.36,128.36 L601.48,127.76 L601.60,127.16 L601.71,126.56 L601.83,125.96 L601.95,125.36 L602.06,124.76 L602.18,124.16 L602.29,123.56 L602.40,122.95 L602.52,122.35 L602.63,121.75 L602.74,121.15 L602.85,120.55 L602.96,119.94 L603.07,119.34 L603.18,118.74 L603.28,118.14 L603.39,117.53 L603.50,116.93 L603.60,116.33 L603.71,115.72 L603.81,115.12 L603.92,114.52 L604.02,113.91 L604.13,113.31 L604.23,112.71 L604.33,112.10 L604.44,111.50 L604.54,110.89 L604.64,110.29 L604.74,109.68 L604.84,109.08 L604.95,108.47 L605.05,107.87 L605.15,107.27 L605.25,106.66 L605.35,106.06 L605.45,105.45 L605.55,104.85 L605.65,104.24 L605.75,103.64 L605.85,103.03 L605.95,102.43 L606.05,101.82 L606.15,101.22 L606.25,100.61 L606.36,100.01 L606.46,99.40 L606.56,98.80 L606.66,98.19 L606.76,97.59 L606.86,96.98 L606.96,96.38 L607.06,95.78 L607.17,95.17 L607.27,94.57 L607.37,93.96 L607.47,93.36 L607.58,92.75 L607.68,92.15 L607.79,91.55 L607.89,90.94 L608.00,90.34 L608.10,89.74 L608.21,89.13 L608.31,88.53 L608.42,87.93 L608.53,87.32 L608.64,86.72 L608.74,86.12 L608.85,85.52 L608.96,84.91 L609.07,84.31 L609.19,83.71 L609.30,83.11 L609.41,82.51 L609.52,81.90 L609.64,81.30 L609.75,80.70 L609.87,80.10 L609.98,79.50 L610.10,78.90 L610.22,78.30 L610.34,77.70 L610.46,77.10 L610.58,76.50 L610.70,75.90 L610.83,75.30 L610.95,74.71 L611.07,74.11 L611.20,73.51 L611.33,72.91 L611.46,72.32 L611.58,71.72 L611.72,71.12 L611.85,70.53 L611.98,69.93 L612.11,69.33 L612.25,68.74 L612.39,68.14 L612.52,67.55 L612.66,66.95 L612.80,66.36 L612.94,65.77 L613.09,65.17 L613.23,64.58 L613.38,63.99 L613.52,63.40 L613.67,62.80 L613.82,62.21 L613.98,61.62 L614.13,61.03 L614.28,60.44 L614.44,59.85 L614.60,59.26 L614.76,58.67 L614.92,58.09 L615.08,57.50 L615.24,56.91 L615.41,56.32 L615.58,55.74 L615.75,55.15 L615.92,54.57 L616.09,53.98 L616.27,53.40 L616.44,52.81 L616.62,52.23 L617.4,53.2 L618,60 L618.4,90 L618.7,125 L619.3,160 L619.8,230 L620.2,276.5 L621.5,277.5 L739,277.5" stroke="#fd9b1c"/>

</g>
<text x="61.30" y="303.8" text-anchor="middle">0</text><text x="103.02" y="303.8" text-anchor="middle">50</text><text x="144.73" y="303.8" text-anchor="middle">100</text><text x="186.44" y="303.8" text-anchor="middle">150</text><text x="228.16" y="303.8" text-anchor="middle">200</text><text x="269.88" y="303.8" text-anchor="middle">250</text><text x="311.59" y="303.8" text-anchor="middle">300</text><text x="353.31" y="303.8" text-anchor="middle">350</text><text x="49.5" y="287.00" text-anchor="end">0</text><text x="49.5" y="237.86" text-anchor="end">20</text><text x="49.5" y="188.72" text-anchor="end">40</text><text x="49.5" y="139.58" text-anchor="end">60</text><text x="49.5" y="90.44" text-anchor="end">80</text><text x="49.5" y="41.30" text-anchor="end">100</text>
<text x="446.80" y="303.8" text-anchor="middle">0</text><text x="488.53" y="303.8" text-anchor="middle">50</text><text x="530.26" y="303.8" text-anchor="middle">100</text><text x="571.99" y="303.8" text-anchor="middle">150</text><text x="613.72" y="303.8" text-anchor="middle">200</text><text x="655.45" y="303.8" text-anchor="middle">250</text><text x="697.18" y="303.8" text-anchor="middle">300</text><text x="738.91" y="303.8" text-anchor="middle">350</text><text x="435.5" y="281.90" text-anchor="end">0.0</text><text x="435.5" y="235.20" text-anchor="end">0.5</text><text x="435.5" y="188.50" text-anchor="end">1.0</text><text x="435.5" y="141.80" text-anchor="end">1.5</text><text x="435.5" y="95.10" text-anchor="end">2.0</text><text x="435.5" y="48.40" text-anchor="end">2.5</text>
<line x1="64.5" y1="172.50" x2="94.5" y2="172.50" stroke="#000000" stroke-width="1.5"/><text x="98" y="177.10">40 wt% C<tspan font-size="9" dx="1" dy="3.6">18</tspan><tspan dy="-3.6">/MS</tspan></text><line x1="64.5" y1="191.70" x2="94.5" y2="191.70" stroke="#ff0000" stroke-width="1.5"/><text x="98" y="196.30">52 wt% C<tspan font-size="9" dx="1" dy="3.6">18</tspan><tspan dy="-3.6">/MS</tspan></text><line x1="64.5" y1="210.90" x2="94.5" y2="210.90" stroke="#0000ff" stroke-width="1.5"/><text x="98" y="215.50">60 wt% C<tspan font-size="9" dx="1" dy="3.6">18</tspan><tspan dy="-3.6">/MS</tspan></text><line x1="64.5" y1="230.10" x2="94.5" y2="230.10" stroke="#999900" stroke-width="1.5"/><text x="98" y="234.70">70 wt% C<tspan font-size="9" dx="1" dy="3.6">18</tspan><tspan dy="-3.6">/MS</tspan></text><line x1="64.5" y1="249.30" x2="94.5" y2="249.30" stroke="#8a0a0a" stroke-width="1.5"/><text x="98" y="253.90">80 wt% C<tspan font-size="9" dx="1" dy="3.6">18</tspan><tspan dy="-3.6">/MS</tspan></text><line x1="64.5" y1="268.50" x2="94.5" y2="268.50" stroke="#fd9b1c" stroke-width="1.5"/><text x="101.7" y="273.10">C<tspan font-size="9" dx="1" dy="3.6">18</tspan></text>
<line x1="450.4" y1="35.00" x2="481" y2="35.00" stroke="#000000" stroke-width="1.5"/><text x="484" y="39.60">40 wt% C<tspan font-size="9" dx="1" dy="3.6">18</tspan><tspan dy="-3.6">/MS</tspan></text><line x1="450.4" y1="54.14" x2="481" y2="54.14" stroke="#ff0000" stroke-width="1.5"/><text x="484" y="58.74">52 wt% C<tspan font-size="9" dx="1" dy="3.6">18</tspan><tspan dy="-3.6">/MS</tspan></text><line x1="450.4" y1="73.28" x2="481" y2="73.28" stroke="#0000ff" stroke-width="1.5"/><text x="484" y="77.88">60 wt% C<tspan font-size="9" dx="1" dy="3.6">18</tspan><tspan dy="-3.6">/MS</tspan></text><line x1="450.4" y1="92.42" x2="481" y2="92.42" stroke="#999900" stroke-width="1.5"/><text x="484" y="97.02">70 wt% C<tspan font-size="9" dx="1" dy="3.6">18</tspan><tspan dy="-3.6">/MS</tspan></text><line x1="450.4" y1="111.56" x2="481" y2="111.56" stroke="#8a0a0a" stroke-width="1.5"/><text x="484" y="116.16">80 wt% C<tspan font-size="9" dx="1" dy="3.6">18</tspan><tspan dy="-3.6">/MS</tspan></text><line x1="450.4" y1="130.70" x2="481" y2="130.70" stroke="#fd9b1c" stroke-width="1.5"/><text x="484" y="135.30">C<tspan font-size="9" dx="1" dy="3.6">18</tspan></text>
<text transform="translate(14,149.3) rotate(-90)" text-anchor="middle" style="font-size:15px">Weight (%)</text>
<text transform="translate(402.8,149.6) rotate(-90)" text-anchor="middle" style="font-size:14.6px">ΔT/ΔW</text>
<text transform="translate(207.5,330.7) scale(1,1.05)" text-anchor="middle" style="font-size:15px">Temperature (<tspan font-size="10" dy="-5.5">o</tspan><tspan dy="5.5">C)</tspan></text>
<text transform="translate(593,330.7) scale(1,1.05)" text-anchor="middle" style="font-size:15px">Temperature (<tspan font-size="10" dy="-5.5">o</tspan><tspan dy="5.5">C)</tspan></text>
</svg>
</body></html>
